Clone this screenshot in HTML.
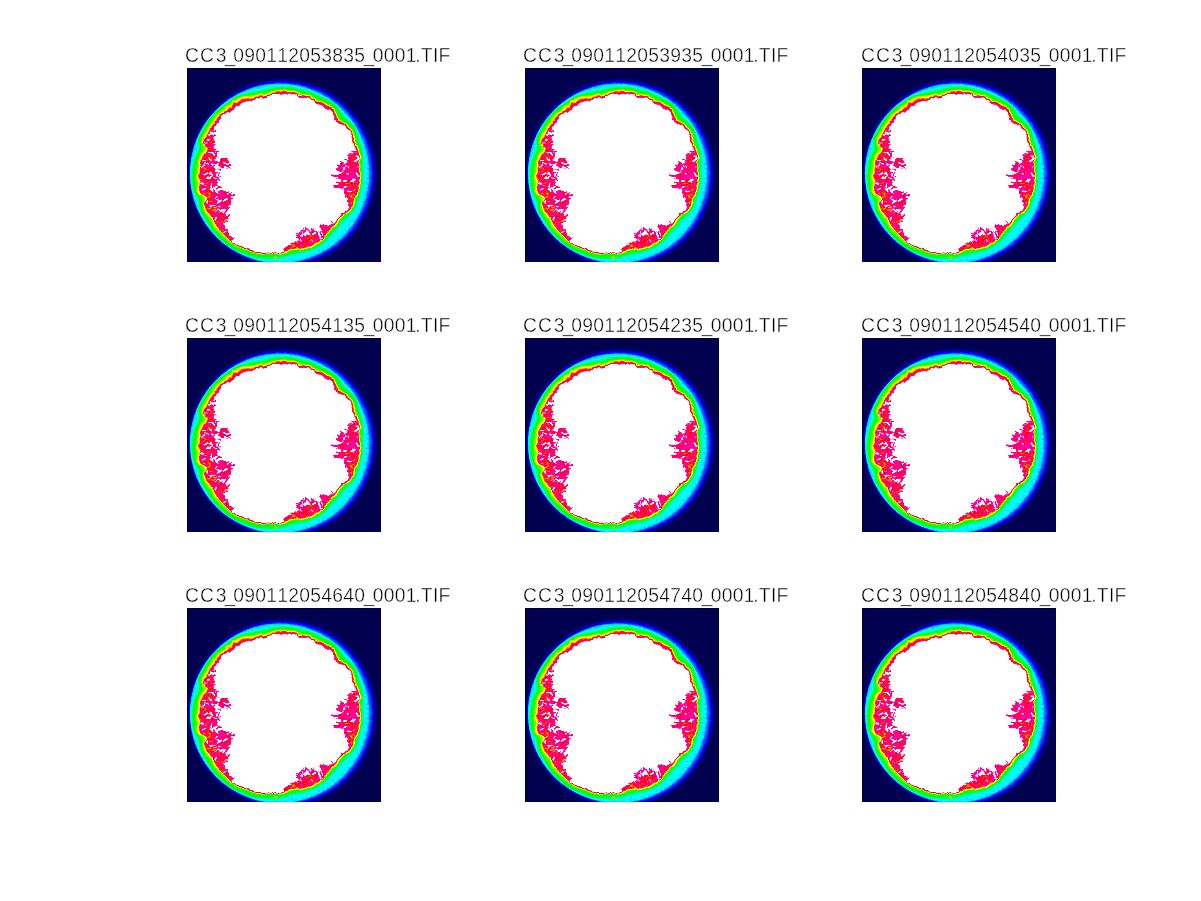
<!DOCTYPE html>
<html lang="en"><head><meta charset="utf-8"><title>Figure 1</title>
<style>
html,body{margin:0;padding:0;background:#fff}
body{width:1201px;height:901px;position:relative;overflow:hidden;font-family:"Liberation Sans",Arial,Helvetica,sans-serif}
svg.tt{position:absolute;left:0;top:0;display:block}
svg.tt text{font-family:"Liberation Sans",Arial,Helvetica,sans-serif;font-size:19.3px;fill:#000;stroke:#fff;stroke-width:.4px;white-space:pre}
svg.ax{position:absolute;display:block}
</style></head><body>
<svg width="0" height="0" style="position:absolute"><defs>
<filter id="cm" filterUnits="userSpaceOnUse" x="-6" y="-6" width="206" height="206" color-interpolation-filters="sRGB">
<feGaussianBlur in="SourceGraphic" stdDeviation="0.5" result="b"/>
<feTurbulence type="fractalNoise" baseFrequency="0.42" numOctaves="2" seed="4" result="n"/>
<feColorMatrix in="n" type="matrix" values="1 0 0 0 0  1 0 0 0 0  1 0 0 0 0  0 0 0 0 1" result="ng"/>
<feComposite in="b" in2="ng" operator="arithmetic" k1="0" k2="1" k3="0.064" k4="-0.040" result="s"/>
<feComponentTransfer in="s"><feFuncR type="table" tableValues="0.000 0.000 0.000 0.000 1.000 1.000 1.000 1.000 1.000"/><feFuncG type="table" tableValues="0.000 0.000 1.000 1.000 1.000 0.000 0.000 1.000 1.000"/><feFuncB type="table" tableValues="0.310 1.000 1.000 0.000 0.000 0.000 0.800 1.000 1.000"/></feComponentTransfer>
</filter>
<filter id="b1" filterUnits="userSpaceOnUse" x="-20" y="-20" width="240" height="240" color-interpolation-filters="sRGB"><feGaussianBlur stdDeviation="1.0"/></filter>
<filter id="b0" filterUnits="userSpaceOnUse" x="-20" y="-20" width="240" height="240" color-interpolation-filters="sRGB"><feGaussianBlur stdDeviation="0.8"/></filter>
<filter id="b2" filterUnits="userSpaceOnUse" x="-20" y="-20" width="240" height="240" color-interpolation-filters="sRGB"><feGaussianBlur stdDeviation="2.3"/></filter>
<radialGradient id="ring" gradientUnits="userSpaceOnUse" cx="92.5" cy="105.4" r="89.8">
<stop offset="0.8218" stop-color="#4b4b4b"/>
<stop offset="0.9109" stop-color="#454545"/>
<stop offset="0.9666" stop-color="#414141"/>
<stop offset="1.0000" stop-color="#3c3c3c"/>
</radialGradient>
<clipPath id="disc"><circle cx="92.5" cy="105.4" r="89.2"/></clipPath>
<clipPath id="hzc"><path d="M96.7,22.6 98.6,22.9 99.7,23.7 100.2,23.9 101.5,24.0 102.8,23.7 104.9,24.6 105.8,23.5 108.1,24.4 108.8,24.4 110.3,24.8 110.9,26.2 110.5,27.1 112.0,28.3 113.0,27.9 115.1,27.6 116.2,27.1 116.6,27.4 118.9,27.8 119.7,28.3 121.5,27.8 123.5,28.7 123.6,29.4 125.1,31.0 126.6,30.8 128.2,31.4 128.4,33.2 129.1,33.3 130.3,33.7 132.9,33.8 134.5,33.6 135.4,34.6 136.2,35.0 137.8,36.3 138.2,36.4 138.5,37.1 140.5,38.1 141.9,37.6 142.4,38.8 143.1,38.8 144.3,39.1 145.2,41.1 146.5,40.8 147.3,43.5 147.4,44.1 148.6,46.3 149.5,47.7 149.3,48.2 150.1,50.1 151.6,50.2 150.9,51.6 152.0,52.7 153.7,52.9 153.7,53.8 155.4,54.6 157.2,55.6 157.6,56.0 158.7,55.9 160.1,57.9 160.9,58.8 160.9,59.0 161.1,60.4 162.0,60.2 163.0,61.3 164.1,62.0 164.4,63.0 165.4,64.2 165.4,66.3 166.5,66.3 165.9,68.0 166.1,68.9 167.0,71.6 166.9,72.0 166.5,72.7 167.3,74.3 168.6,75.4 167.5,78.1 169.2,77.8 169.8,78.7 170.3,81.5 171.5,82.1 171.1,82.6 171.2,84.6 172.0,85.9 171.8,86.2 172.8,88.8 173.1,89.8 172.9,91.0 171.7,91.9 171.8,92.3 171.0,94.0 171.3,96.0 172.3,96.9 172.4,99.2 172.6,99.4 171.8,100.6 171.8,101.9 172.5,104.4 173.0,105.1 172.7,107.0 171.8,108.1 173.1,109.6 172.7,110.5 171.7,112.3 171.8,113.7 173.0,114.4 171.8,116.7 172.4,116.7 171.0,118.0 172.1,120.4 170.3,121.8 171.5,122.8 169.9,123.9 169.1,124.3 170.0,126.5 168.9,128.1 167.9,129.0 168.0,129.0 166.7,130.4 166.4,132.2 166.2,133.2 165.7,135.3 165.8,135.8 165.7,137.7 164.9,138.7 164.5,139.1 164.0,139.3 163.4,140.7 162.2,142.9 161.4,143.0 161.2,143.7 159.5,144.3 158.7,145.4 156.8,145.6 156.0,146.0 155.8,147.2 154.4,148.4 153.9,148.8 152.5,149.9 151.6,151.3 150.7,152.1 149.9,153.9 149.5,154.9 149.1,155.0 147.6,157.2 147.5,157.0 145.3,158.4 144.3,158.9 143.6,160.6 143.9,161.8 141.9,162.3 141.8,162.1 141.3,164.3 139.4,165.3 139.0,165.5 139.2,167.1 137.4,167.9 137.6,169.1 136.7,170.5 136.5,170.5 135.2,171.8 133.1,172.1 133.1,172.9 131.0,174.2 131.2,174.8 129.0,174.3 127.8,175.8 127.1,175.3 126.3,177.3 125.9,176.8 123.5,178.4 123.2,178.6 121.2,177.9 120.9,178.8 118.6,179.8 118.4,179.8 116.2,180.1 115.0,180.6 114.5,180.1 113.4,181.4 111.6,180.0 110.7,180.3 108.7,180.3 107.2,180.3 106.3,180.7 105.8,181.0 104.0,181.1 102.4,181.3 100.9,181.5 100.6,182.8 98.6,183.2 98.8,183.1 97.6,184.1 95.9,185.0 94.6,184.8 94.0,185.9 92.3,186.0 91.6,185.7 89.8,185.2 87.8,184.8 86.5,185.9 85.5,184.9 83.9,186.1 83.9,185.9 81.5,185.1 80.2,185.5 78.7,185.5 77.5,186.4 77.4,185.7 74.8,186.5 73.7,185.2 71.9,185.1 71.5,185.1 69.8,185.0 68.2,184.4 67.1,184.5 65.8,183.7 65.2,183.6 64.6,183.6 63.8,183.2 62.7,183.0 61.0,181.6 61.0,180.7 59.4,181.0 57.0,180.8 57.2,180.0 55.6,179.9 53.4,178.9 52.8,178.9 52.1,178.5 50.3,178.1 49.2,177.2 47.1,175.5 45.6,175.5 44.7,175.6 44.6,174.4 43.9,173.6 42.8,171.6 42.4,172.0 40.9,170.8 40.3,169.1 39.6,168.4 37.6,167.5 37.8,166.5 36.9,166.8 35.6,165.0 34.8,164.6 34.4,163.6 33.3,161.8 31.6,161.3 31.9,160.3 30.9,158.7 29.3,158.1 29.5,157.7 28.9,155.9 27.9,155.1 27.4,153.5 27.8,152.6 27.6,152.8 25.5,150.9 26.5,150.7 25.5,148.4 24.3,148.7 23.3,147.3 22.2,146.4 22.8,144.8 21.5,144.7 21.0,144.0 19.3,143.2 19.3,140.6 17.9,140.3 18.2,138.7 17.2,137.5 17.5,136.9 16.8,135.4 18.7,133.0 19.5,132.6 20.0,130.5 20.0,129.2 20.0,128.7 17.7,127.6 16.3,126.2 15.0,126.7 14.0,125.9 12.9,123.6 12.0,122.5 11.7,122.3 12.6,120.7 12.0,119.4 12.8,117.4 12.8,115.2 13.0,114.5 13.5,113.4 12.3,111.1 12.9,109.9 11.7,108.9 11.0,108.2 12.5,106.0 12.7,104.8 12.9,103.6 12.7,101.8 12.6,101.7 13.2,99.2 13.9,99.1 13.2,96.3 12.9,94.8 13.4,93.4 13.5,92.3 14.6,92.1 15.5,90.2 15.7,89.3 16.3,87.9 16.4,86.7 18.8,85.4 18.8,85.1 20.0,83.3 19.9,82.3 20.6,81.5 20.9,81.1 20.3,78.7 18.0,78.8 18.8,77.4 17.5,75.5 16.3,75.9 16.3,74.7 16.9,72.5 16.3,71.2 17.6,71.0 19.1,69.9 19.5,69.0 19.9,67.5 19.8,66.7 20.9,66.0 21.8,63.6 21.6,62.6 22.9,62.1 22.7,60.1 24.1,60.0 24.7,58.4 25.6,57.0 25.8,56.8 27.4,56.0 28.1,54.7 27.6,53.1 29.7,52.8 29.4,50.6 30.4,50.5 30.8,48.6 32.2,48.8 32.7,46.5 33.9,46.3 35.6,45.1 36.8,45.0 37.5,43.3 39.3,42.9 40.2,42.1 40.0,42.2 41.1,41.7 42.4,39.6 42.9,39.3 44.8,39.7 44.6,37.4 45.6,37.5 46.3,34.8 47.1,34.4 49.8,34.8 50.8,34.5 52.4,32.6 52.5,33.3 54.7,31.1 55.8,31.2 56.6,31.0 57.5,30.3 58.9,30.7 61.4,30.3 62.6,30.2 62.8,31.2 64.9,30.3 64.8,30.1 66.7,30.7 67.6,29.2 70.1,28.5 70.4,29.2 72.2,27.4 72.3,27.3 75.2,27.6 76.3,28.8 77.1,28.0 79.4,27.9 79.5,27.8 80.8,26.6 81.5,26.7 84.3,25.9 85.6,24.3 85.6,24.4 88.2,25.0 88.5,23.4 89.8,23.5 92.0,22.9 93.1,23.7 94.6,23.4 95.7,22.9Z"/></clipPath>
<g id="sky" filter="url(#cm)"><rect x="-8" y="-8" width="210" height="210" fill="#000000"/>
<circle cx="94.9" cy="105.1" r="92.1" fill="#303030" filter="url(#b2)"/>
<circle cx="92.5" cy="105.4" r="89.8" fill="url(#ring)"/>
<path d="M97.3,18.7 99.6,18.7 101.9,18.6 104.2,18.9 106.3,19.5 108.4,20.0 110.5,20.5 112.5,21.0 114.5,21.5 116.5,22.1 118.5,22.5 120.6,22.8 122.5,23.3 124.4,23.9 126.2,24.7 128.0,25.5 129.8,26.4 131.7,27.3 133.6,28.2 135.6,29.1 137.6,29.9 139.6,30.7 141.6,31.6 143.4,32.5 145.2,33.5 146.9,34.7 148.4,36.1 149.8,37.5 151.0,39.1 152.2,40.8 153.2,42.6 154.2,44.4 155.2,46.1 156.3,47.6 157.6,49.0 159.0,50.3 160.4,51.6 162.0,52.9 163.5,54.2 165.0,55.6 166.5,57.1 167.7,58.8 168.7,60.6 169.5,62.5 170.2,64.5 170.8,66.6 171.3,68.8 171.7,71.1 172.3,73.3 173.0,75.5 173.8,77.6 174.5,79.8 175.1,81.9 175.6,84.0 176.0,86.1 176.1,88.2 176.1,90.4 176.0,92.5 175.9,94.6 175.8,96.8 175.7,98.9 175.7,101.2 175.7,103.4 175.7,105.6 175.8,107.9 175.8,110.2 175.7,112.4 175.5,114.7 175.2,116.9 174.8,119.2 174.2,121.5 173.6,123.7 172.9,126.0 172.2,128.3 171.5,130.6 170.8,132.8 170.1,134.9 169.5,136.9 168.8,138.9 168.0,140.7 166.9,142.3 165.7,143.8 164.4,145.2 162.9,146.5 161.4,147.7 159.8,149.0 158.3,150.3 157.0,151.6 155.7,153.0 154.4,154.4 153.3,155.9 152.1,157.5 150.8,159.0 149.5,160.5 148.2,162.1 146.8,163.6 145.3,165.1 143.9,166.8 142.7,168.5 141.3,170.2 139.8,171.8 138.2,173.3 136.5,174.9 134.8,176.3 132.9,177.6 130.8,178.8 128.7,179.9 126.6,180.8 124.6,181.7 122.6,182.5 120.6,183.2 118.6,183.7 116.6,184.0 114.6,184.3 112.6,184.7 110.5,185.1 108.4,185.5 106.3,186.0 104.1,186.6 101.9,187.3 99.6,188.1 97.3,188.8 95.1,189.4 92.9,189.9 90.7,190.3 88.6,190.5 86.5,190.6 84.4,190.6 82.3,190.7 80.3,190.7 78.2,190.7 76.1,190.6 73.9,190.5 71.7,190.4 69.6,190.1 67.5,189.7 65.4,189.2 63.4,188.6 61.5,188.0 59.7,187.3 57.9,186.6 56.1,185.8 54.2,185.1 52.4,184.4 50.5,183.7 48.6,183.0 46.7,182.1 44.9,181.1 43.0,180.0 41.3,178.9 39.6,177.6 38.0,176.2 36.5,174.8 35.0,173.4 33.5,172.0 32.0,170.6 30.6,169.1 29.1,167.6 27.7,166.0 26.4,164.4 25.1,162.7 24.0,161.0 23.0,159.3 22.1,157.6 21.2,155.9 20.2,154.3 19.1,152.7 18.0,150.9 16.8,149.1 15.6,147.2 14.5,145.4 13.5,143.4 12.8,141.4 12.4,139.4 12.3,137.4 12.2,135.6 11.9,133.9 11.4,132.3 10.8,130.7 9.8,129.1 8.8,127.4 7.6,125.7 6.7,123.9 6.1,122.0 5.7,120.0 5.4,118.0 5.3,115.9 5.1,113.9 5.0,111.9 4.9,110.0 4.9,108.0 4.9,106.0 5.0,104.1 5.2,102.1 5.6,100.1 6.0,98.1 6.3,96.1 6.6,94.1 7.1,92.1 7.8,90.1 8.6,88.2 9.6,86.3 10.6,84.5 11.5,82.7 12.0,81.0 12.2,79.3 12.1,77.7 11.7,76.1 11.3,74.5 10.9,72.9 10.8,71.3 11.1,69.7 11.6,68.1 12.5,66.4 13.6,64.7 14.6,63.0 15.7,61.3 16.7,59.5 17.8,57.6 18.8,55.8 19.9,53.9 21.0,52.0 22.2,50.2 23.4,48.4 24.7,46.7 26.2,45.1 27.7,43.5 29.3,42.0 31.1,40.5 33.0,39.1 35.1,37.8 37.0,36.5 38.8,35.2 40.5,33.9 42.1,32.7 43.8,31.5 45.5,30.3 47.2,29.2 49.1,28.3 51.1,27.5 53.3,26.9 55.5,26.4 57.7,25.9 59.9,25.4 62.0,25.0 64.0,24.6 66.0,24.1 68.0,23.8 70.0,23.5 72.0,23.1 74.0,22.8 76.0,22.3 78.0,21.9 80.0,21.4 82.0,20.8 84.0,20.2 86.1,19.6 88.2,19.2 90.4,18.9 92.6,18.7 95.0,18.7Z" fill="#616161" filter="url(#b1)" clip-path="url(#disc)"/>
<path d="M97.1,21.8 99.4,21.8 101.6,21.9 103.7,22.2 105.8,22.8 107.8,23.4 109.8,23.9 111.7,24.5 113.6,25.0 115.5,25.7 117.4,26.1 119.3,26.5 121.2,27.0 122.9,27.6 124.6,28.4 126.3,29.3 128.1,30.2 129.8,31.1 131.6,32.0 133.4,32.9 135.3,33.7 137.2,34.5 139.0,35.4 140.7,36.3 142.4,37.4 143.9,38.6 145.3,39.9 146.5,41.4 147.7,42.9 148.7,44.6 149.6,46.5 150.4,48.2 151.3,49.7 152.4,51.2 153.6,52.5 154.9,53.7 156.3,54.9 157.8,56.1 159.2,57.3 160.7,58.6 162.1,60.0 163.3,61.6 164.2,63.2 165.0,65.0 165.7,66.9 166.2,68.9 166.7,70.9 167.1,73.1 167.6,75.2 168.4,77.2 169.2,79.2 169.9,81.2 170.6,83.2 171.2,85.1 171.6,87.1 171.8,89.1 171.8,91.1 171.8,93.2 171.7,95.2 171.7,97.2 171.7,99.3 171.8,101.4 171.8,103.5 171.9,105.6 172.0,107.8 171.9,109.9 171.8,112.1 171.6,114.2 171.3,116.4 170.8,118.5 170.3,120.7 169.6,122.8 168.9,125.0 168.2,127.2 167.5,129.3 166.9,131.4 166.2,133.4 165.5,135.3 164.9,137.2 164.1,138.8 163.1,140.4 161.8,141.7 160.5,143.0 159.1,144.3 157.6,145.4 156.1,146.6 154.6,147.7 153.3,149.0 152.0,150.3 150.9,151.6 149.7,153.0 148.6,154.4 147.4,155.9 146.2,157.3 144.9,158.7 143.6,160.2 142.2,161.6 140.9,163.1 139.7,164.8 138.4,166.4 137.0,167.9 135.6,169.4 134.0,170.8 132.3,172.2 130.5,173.4 128.5,174.5 126.5,175.5 124.6,176.4 122.7,177.2 120.8,177.9 118.9,178.5 117.0,179.0 115.1,179.3 113.2,179.5 111.4,179.8 109.4,180.1 107.5,180.5 105.5,180.9 103.4,181.5 101.3,182.2 99.1,183.0 97.0,183.7 94.9,184.2 92.8,184.7 90.8,185.0 88.8,185.2 86.8,185.3 84.9,185.3 83.0,185.3 81.1,185.3 79.1,185.3 77.1,185.3 75.1,185.2 73.0,185.2 70.9,185.0 68.9,184.8 67.0,184.4 65.1,183.9 63.2,183.4 61.5,182.8 59.8,182.2 58.0,181.5 56.3,180.9 54.5,180.3 52.6,179.8 50.8,179.2 48.9,178.4 47.1,177.6 45.3,176.6 43.6,175.6 41.9,174.4 40.3,173.2 38.8,171.9 37.3,170.6 35.8,169.3 34.4,168.1 32.9,166.7 31.4,165.3 30.0,163.9 28.6,162.4 27.3,160.8 26.2,159.2 25.3,157.6 24.5,155.9 23.6,154.3 22.6,152.6 21.6,151.1 20.5,149.4 19.4,147.6 18.3,145.8 17.2,144.0 16.2,142.1 15.6,140.2 15.3,138.2 15.2,136.3 15.1,134.5 14.8,132.8 14.4,131.3 13.8,129.7 12.9,128.2 11.9,126.6 10.8,125.0 9.9,123.3 9.3,121.4 8.9,119.5 8.7,117.5 8.6,115.5 8.4,113.6 8.3,111.7 8.3,109.8 8.3,107.9 8.3,106.0 8.4,104.1 8.6,102.2 9.0,100.3 9.4,98.4 9.6,96.5 10.0,94.5 10.5,92.6 11.1,90.7 11.9,88.8 12.8,87.0 13.8,85.3 14.7,83.6 15.2,81.9 15.4,80.3 15.2,78.8 14.8,77.3 14.4,75.7 13.9,74.1 13.8,72.6 14.0,71.0 14.5,69.4 15.3,67.8 16.4,66.2 17.4,64.5 18.4,62.9 19.4,61.2 20.4,59.3 21.4,57.5 22.5,55.7 23.5,53.9 24.6,52.1 25.8,50.3 27.0,48.7 28.4,47.1 29.9,45.6 31.5,44.1 33.2,42.7 35.0,41.3 37.0,40.1 38.8,38.8 40.5,37.5 42.2,36.3 43.8,35.0 45.4,33.9 47.0,32.7 48.7,31.6 50.5,30.7 52.4,29.9 54.5,29.4 56.7,28.8 58.8,28.4 60.9,27.9 62.9,27.5 64.9,27.1 66.9,26.7 68.8,26.4 70.8,26.1 72.7,25.8 74.6,25.5 76.6,25.1 78.5,24.7 80.4,24.2 82.4,23.7 84.3,23.1 86.3,22.5 88.3,22.1 90.4,21.8 92.6,21.7 94.9,21.7Z" fill="#707070" filter="url(#b0)"/>
<path d="M96.8,21.4 98.7,21.6 99.8,22.7 100.3,23.0 101.6,22.7 103.0,22.5 105.0,23.6 106.0,22.2 108.3,23.3 109.0,23.6 110.6,23.7 111.2,25.2 110.7,26.0 112.3,27.1 113.3,26.9 115.3,26.8 116.4,26.3 116.9,26.5 119.3,26.8 120.2,27.0 122.0,26.4 124.1,27.2 124.1,28.3 125.5,30.0 127.0,29.9 128.6,30.4 128.8,32.4 129.6,32.4 130.8,32.9 133.3,33.1 134.9,33.0 135.8,33.9 136.6,34.3 138.3,35.4 139.0,35.2 139.2,36.1 141.2,37.3 142.7,36.6 142.9,38.1 143.6,38.2 144.9,38.4 145.7,40.4 147.1,40.1 148.0,42.8 148.1,43.3 149.3,45.6 150.3,46.9 149.8,47.6 150.7,49.6 152.2,49.7 151.5,51.1 152.6,52.2 154.3,52.4 154.4,53.2 156.1,54.1 158.1,54.9 158.7,55.2 159.6,55.2 160.9,57.3 161.7,58.3 161.7,58.5 162.1,59.8 162.9,59.6 164.0,60.7 165.3,61.3 165.4,62.5 166.2,63.8 166.5,65.7 167.8,65.7 167.0,67.4 167.4,68.2 168.7,70.8 168.3,71.4 167.7,72.2 168.5,73.8 169.6,75.0 168.4,77.8 170.3,77.4 171.0,78.3 171.5,81.1 172.7,81.7 172.4,82.2 172.5,84.2 173.2,85.6 173.2,85.9 174.5,88.4 174.7,89.5 174.1,90.7 173.2,91.6 173.2,92.1 172.2,93.9 172.2,95.9 173.4,96.8 173.3,99.1 173.6,99.4 172.7,100.5 172.8,101.8 173.6,104.4 173.9,105.1 173.9,107.0 173.2,108.1 174.7,109.7 174.2,110.5 173.4,112.5 173.5,113.9 174.4,114.5 173.1,116.8 173.8,116.9 172.5,118.2 173.3,120.7 171.8,122.1 173.1,123.2 171.4,124.3 170.4,124.7 171.6,126.9 170.1,128.5 169.0,129.3 169.2,129.3 167.9,130.8 167.7,132.6 167.9,133.8 167.6,136.0 167.2,136.4 167.0,138.2 165.8,139.1 165.3,139.5 164.8,139.7 164.5,141.3 163.4,143.6 162.6,143.6 162.5,144.4 160.5,144.9 159.5,145.9 157.6,146.1 156.9,146.5 156.6,147.7 155.2,149.0 155.0,149.5 153.7,150.8 152.6,152.1 152.0,153.3 151.1,155.0 150.7,156.0 150.3,156.0 149.0,158.5 148.7,158.2 146.5,159.5 145.2,159.8 144.3,161.4 144.5,162.5 142.5,163.0 142.4,162.8 142.1,165.2 140.1,166.1 139.5,166.3 139.8,167.8 138.0,168.6 138.1,169.8 137.3,171.3 137.1,171.3 135.8,172.7 133.8,173.3 133.8,174.1 131.8,175.7 132.0,176.2 129.9,176.0 128.7,177.5 128.0,177.0 127.0,178.7 126.7,178.5 124.3,180.1 123.7,179.9 121.7,179.2 121.5,180.1 119.0,181.0 118.7,180.9 116.6,181.6 115.3,181.8 114.8,181.3 113.8,182.7 111.9,181.2 111.0,181.5 108.9,181.4 107.4,181.3 106.5,181.8 106.0,182.3 104.1,182.2 102.6,182.7 101.1,183.0 100.8,184.4 98.8,184.8 99.0,184.6 97.6,185.4 95.9,186.1 94.6,185.8 94.0,186.8 92.3,186.8 91.6,186.3 89.8,185.7 87.8,185.2 86.5,186.3 85.5,185.2 83.9,186.4 83.9,186.2 81.5,185.4 80.2,185.9 78.6,185.8 77.4,186.8 77.3,186.0 74.7,186.9 73.6,185.6 71.8,185.6 71.3,185.7 69.6,185.7 68.1,185.0 67.0,185.0 65.7,184.1 65.0,184.0 64.5,183.8 63.7,183.4 62.6,183.3 60.9,181.8 60.9,180.9 59.2,181.3 56.8,181.2 57.0,180.5 55.4,180.4 53.2,179.3 52.6,179.3 51.8,178.9 50.1,178.5 49.0,177.5 46.9,175.7 45.4,175.8 44.5,175.8 44.4,174.7 43.7,173.9 42.7,171.9 42.2,172.3 40.8,171.1 40.1,169.3 39.4,168.7 37.3,167.8 37.5,166.7 36.7,167.1 35.3,165.3 34.5,164.9 34.1,163.9 32.8,162.3 30.8,162.0 30.9,161.2 29.6,159.8 27.8,159.3 28.1,158.9 27.2,157.3 26.4,156.3 26.1,154.5 26.7,153.4 26.6,153.4 24.7,151.4 25.6,151.3 24.2,149.3 22.8,149.6 22.0,148.1 21.0,147.1 21.5,145.6 20.4,145.4 19.6,144.7 17.8,144.0 17.8,141.3 16.4,141.0 17.0,139.3 16.1,138.0 16.3,137.4 15.6,135.9 17.4,133.5 17.9,133.2 18.4,131.0 18.3,129.7 18.1,129.3 16.0,128.1 14.7,126.6 12.8,127.3 11.6,126.5 10.1,124.2 9.4,123.0 9.2,122.9 10.4,121.1 10.6,119.6 11.4,117.6 11.3,115.3 11.2,114.7 11.6,113.6 9.7,111.2 10.3,110.0 9.5,109.0 8.9,108.3 10.4,106.1 10.8,104.7 11.4,103.5 11.2,101.7 11.1,101.6 11.7,99.0 12.4,99.0 11.7,96.1 11.4,94.6 12.0,93.2 11.6,92.0 12.3,91.7 13.0,89.7 12.4,88.6 13.4,87.2 14.2,86.1 16.6,84.8 16.6,84.6 18.4,82.8 18.4,81.9 19.0,80.9 19.5,80.6 18.9,78.2 16.1,78.1 16.7,76.6 15.7,74.8 14.1,75.1 14.6,74.1 15.6,71.9 14.7,70.5 15.5,70.0 16.8,68.8 16.6,67.5 17.2,66.1 17.7,65.6 19.0,64.9 20.2,62.7 20.4,61.8 21.6,61.3 21.0,59.0 22.5,58.9 23.1,57.4 23.8,55.7 23.6,55.2 25.8,54.8 26.6,53.5 26.0,51.8 28.0,51.4 28.3,49.7 29.2,49.5 29.7,47.5 31.1,47.8 31.6,45.4 32.8,45.1 34.4,43.8 35.4,43.5 36.1,41.8 38.1,41.4 38.5,40.1 37.9,39.7 39.0,39.1 40.3,36.9 41.3,37.1 43.4,37.6 43.4,35.8 44.6,36.0 45.3,33.2 45.6,32.1 48.5,32.6 49.3,31.9 50.7,29.6 51.1,30.8 53.6,29.0 54.7,28.8 55.5,28.7 56.4,28.0 57.9,28.4 60.4,27.8 61.6,27.7 61.9,28.8 64.1,28.3 63.8,27.4 65.9,28.3 67.0,27.5 69.5,26.6 69.9,27.4 71.9,26.2 71.8,25.6 74.8,25.8 76.1,27.5 76.9,26.8 79.2,26.8 79.3,26.7 80.7,25.5 81.4,25.5 84.2,24.3 85.5,22.7 85.5,23.0 88.1,24.0 88.4,22.3 89.8,22.5 92.0,21.9 93.1,22.5 94.7,22.1 95.8,21.8Z" fill="#838383"/>
<path d="M96.7,22.6 98.6,22.9 99.7,23.7 100.2,23.9 101.5,24.0 102.8,23.7 104.9,24.6 105.8,23.5 108.1,24.4 108.8,24.4 110.3,24.8 110.9,26.2 110.5,27.1 112.0,28.3 113.0,27.9 115.1,27.6 116.2,27.1 116.6,27.4 118.9,27.8 119.7,28.3 121.5,27.8 123.5,28.7 123.6,29.4 125.1,31.0 126.6,30.8 128.2,31.4 128.4,33.2 129.1,33.3 130.3,33.7 132.9,33.8 134.5,33.6 135.4,34.6 136.2,35.0 137.8,36.3 138.2,36.4 138.5,37.1 140.5,38.1 141.9,37.6 142.4,38.8 143.1,38.8 144.3,39.1 145.2,41.1 146.5,40.8 147.3,43.5 147.4,44.1 148.6,46.3 149.5,47.7 149.3,48.2 150.1,50.1 151.6,50.2 150.9,51.6 152.0,52.7 153.7,52.9 153.7,53.8 155.4,54.6 157.2,55.6 157.6,56.0 158.7,55.9 160.1,57.9 160.9,58.8 160.9,59.0 161.1,60.4 162.0,60.2 163.0,61.3 164.1,62.0 164.4,63.0 165.4,64.2 165.4,66.3 166.5,66.3 165.9,68.0 166.1,68.9 167.0,71.6 166.9,72.0 166.5,72.7 167.3,74.3 168.6,75.4 167.5,78.1 169.2,77.8 169.8,78.7 170.3,81.5 171.5,82.1 171.1,82.6 171.2,84.6 172.0,85.9 171.8,86.2 172.8,88.8 173.1,89.8 172.9,91.0 171.7,91.9 171.8,92.3 171.0,94.0 171.3,96.0 172.3,96.9 172.4,99.2 172.6,99.4 171.8,100.6 171.8,101.9 172.5,104.4 173.0,105.1 172.7,107.0 171.8,108.1 173.1,109.6 172.7,110.5 171.7,112.3 171.8,113.7 173.0,114.4 171.8,116.7 172.4,116.7 171.0,118.0 172.1,120.4 170.3,121.8 171.5,122.8 169.9,123.9 169.1,124.3 170.0,126.5 168.9,128.1 167.9,129.0 168.0,129.0 166.7,130.4 166.4,132.2 166.2,133.2 165.7,135.3 165.8,135.8 165.7,137.7 164.9,138.7 164.5,139.1 164.0,139.3 163.4,140.7 162.2,142.9 161.4,143.0 161.2,143.7 159.5,144.3 158.7,145.4 156.8,145.6 156.0,146.0 155.8,147.2 154.4,148.4 153.9,148.8 152.5,149.9 151.6,151.3 150.7,152.1 149.9,153.9 149.5,154.9 149.1,155.0 147.6,157.2 147.5,157.0 145.3,158.4 144.3,158.9 143.6,160.6 143.9,161.8 141.9,162.3 141.8,162.1 141.3,164.3 139.4,165.3 139.0,165.5 139.2,167.1 137.4,167.9 137.6,169.1 136.7,170.5 136.5,170.5 135.2,171.8 133.1,172.1 133.1,172.9 131.0,174.2 131.2,174.8 129.0,174.3 127.8,175.8 127.1,175.3 126.3,177.3 125.9,176.8 123.5,178.4 123.2,178.6 121.2,177.9 120.9,178.8 118.6,179.8 118.4,179.8 116.2,180.1 115.0,180.6 114.5,180.1 113.4,181.4 111.6,180.0 110.7,180.3 108.7,180.3 107.2,180.3 106.3,180.7 105.8,181.0 104.0,181.1 102.4,181.3 100.9,181.5 100.6,182.8 98.6,183.2 98.8,183.1 97.6,184.1 95.9,185.0 94.6,184.8 94.0,185.9 92.3,186.0 91.6,185.7 89.8,185.2 87.8,184.8 86.5,185.9 85.5,184.9 83.9,186.1 83.9,185.9 81.5,185.1 80.2,185.5 78.7,185.5 77.5,186.4 77.4,185.7 74.8,186.5 73.7,185.2 71.9,185.1 71.5,185.1 69.8,185.0 68.2,184.4 67.1,184.5 65.8,183.7 65.2,183.6 64.6,183.6 63.8,183.2 62.7,183.0 61.0,181.6 61.0,180.7 59.4,181.0 57.0,180.8 57.2,180.0 55.6,179.9 53.4,178.9 52.8,178.9 52.1,178.5 50.3,178.1 49.2,177.2 47.1,175.5 45.6,175.5 44.7,175.6 44.6,174.4 43.9,173.6 42.8,171.6 42.4,172.0 40.9,170.8 40.3,169.1 39.6,168.4 37.6,167.5 37.8,166.5 36.9,166.8 35.6,165.0 34.8,164.6 34.4,163.6 33.3,161.8 31.6,161.3 31.9,160.3 30.9,158.7 29.3,158.1 29.5,157.7 28.9,155.9 27.9,155.1 27.4,153.5 27.8,152.6 27.6,152.8 25.5,150.9 26.5,150.7 25.5,148.4 24.3,148.7 23.3,147.3 22.2,146.4 22.8,144.8 21.5,144.7 21.0,144.0 19.3,143.2 19.3,140.6 17.9,140.3 18.2,138.7 17.2,137.5 17.5,136.9 16.8,135.4 18.7,133.0 19.5,132.6 20.0,130.5 20.0,129.2 20.0,128.7 17.7,127.6 16.3,126.2 15.0,126.7 14.0,125.9 12.9,123.6 12.0,122.5 11.7,122.3 12.6,120.7 12.0,119.4 12.8,117.4 12.8,115.2 13.0,114.5 13.5,113.4 12.3,111.1 12.9,109.9 11.7,108.9 11.0,108.2 12.5,106.0 12.7,104.8 12.9,103.6 12.7,101.8 12.6,101.7 13.2,99.2 13.9,99.1 13.2,96.3 12.9,94.8 13.4,93.4 13.5,92.3 14.6,92.1 15.5,90.2 15.7,89.3 16.3,87.9 16.4,86.7 18.8,85.4 18.8,85.1 20.0,83.3 19.9,82.3 20.6,81.5 20.9,81.1 20.3,78.7 18.0,78.8 18.8,77.4 17.5,75.5 16.3,75.9 16.3,74.7 16.9,72.5 16.3,71.2 17.6,71.0 19.1,69.9 19.5,69.0 19.9,67.5 19.8,66.7 20.9,66.0 21.8,63.6 21.6,62.6 22.9,62.1 22.7,60.1 24.1,60.0 24.7,58.4 25.6,57.0 25.8,56.8 27.4,56.0 28.1,54.7 27.6,53.1 29.7,52.8 29.4,50.6 30.4,50.5 30.8,48.6 32.2,48.8 32.7,46.5 33.9,46.3 35.6,45.1 36.8,45.0 37.5,43.3 39.3,42.9 40.2,42.1 40.0,42.2 41.1,41.7 42.4,39.6 42.9,39.3 44.8,39.7 44.6,37.4 45.6,37.5 46.3,34.8 47.1,34.4 49.8,34.8 50.8,34.5 52.4,32.6 52.5,33.3 54.7,31.1 55.8,31.2 56.6,31.0 57.5,30.3 58.9,30.7 61.4,30.3 62.6,30.2 62.8,31.2 64.9,30.3 64.8,30.1 66.7,30.7 67.6,29.2 70.1,28.5 70.4,29.2 72.2,27.4 72.3,27.3 75.2,27.6 76.3,28.8 77.1,28.0 79.4,27.9 79.5,27.8 80.8,26.6 81.5,26.7 84.3,25.9 85.6,24.3 85.6,24.4 88.2,25.0 88.5,23.4 89.8,23.5 92.0,22.9 93.1,23.7 94.6,23.4 95.7,22.9Z" fill="#9e9e9e"/>
<path d="M96.6,24.4 98.5,24.1 99.6,24.6 100.1,25.2 101.3,25.2 102.7,24.6 104.7,25.8 105.6,24.5 107.9,25.7 108.6,25.7 110.1,25.9 110.7,27.2 110.3,27.7 111.8,28.9 112.9,28.5 114.9,28.2 116.0,27.7 116.4,28.0 118.7,28.4 119.5,28.9 121.1,28.8 123.1,29.6 123.2,30.4 124.9,31.6 126.2,31.7 127.7,32.4 127.7,34.6 128.6,34.2 129.6,35.1 132.1,35.3 133.5,35.3 134.6,35.9 135.5,36.1 137.0,37.5 137.4,37.6 137.9,38.0 139.9,39.0 141.3,38.5 141.5,40.0 141.7,40.7 143.3,40.5 144.1,42.3 145.1,42.5 146.3,44.6 146.3,45.3 147.8,47.2 148.9,48.4 148.3,49.1 148.8,51.4 150.3,51.4 149.4,53.0 150.8,53.8 152.4,54.0 152.6,54.7 154.3,55.5 156.7,56.0 157.0,56.4 158.2,56.3 159.2,58.5 160.0,59.4 160.1,59.5 160.7,60.7 161.4,60.6 162.6,61.6 163.6,62.3 163.9,63.3 165.0,64.5 164.7,66.7 165.6,66.8 165.0,68.4 165.2,69.3 165.9,72.1 165.4,72.6 165.5,73.2 166.4,74.7 167.6,75.8 166.8,78.4 168.1,78.2 168.9,79.0 169.8,81.6 171.0,82.2 170.6,82.8 170.7,84.7 171.5,86.0 171.3,86.3 172.4,88.9 172.6,89.9 172.4,91.0 171.2,91.9 171.3,92.4 170.6,94.1 170.8,96.1 171.8,96.9 171.9,99.2 171.9,99.5 170.5,100.6 170.6,101.9 171.6,104.4 172.2,105.1 172.2,107.0 171.3,108.1 172.6,109.6 172.2,110.4 171.0,112.3 171.1,113.6 171.8,114.2 170.8,116.5 171.1,116.5 170.2,117.8 170.9,120.2 169.3,121.5 169.9,122.5 168.5,123.6 167.7,124.0 168.6,126.1 167.1,127.6 166.8,128.7 167.0,128.6 165.9,130.1 165.7,131.9 165.5,132.9 165.3,135.1 165.4,135.6 165.2,137.4 164.5,138.5 164.1,139.0 163.6,139.1 162.8,140.4 161.4,142.5 160.7,142.6 160.6,143.4 158.8,143.9 158.2,145.1 156.4,145.4 155.6,145.7 155.4,146.9 154.0,148.2 153.4,148.4 152.1,149.6 151.1,151.0 150.2,151.8 149.4,153.5 148.9,154.4 148.5,154.5 147.1,156.7 146.6,156.3 144.6,157.7 143.7,158.2 142.7,159.7 143.2,161.0 141.3,161.6 141.4,161.6 140.9,163.9 138.8,164.5 138.1,164.4 138.2,165.7 136.4,166.4 136.7,167.8 135.7,169.1 135.6,169.1 134.2,170.3 132.3,170.8 132.3,171.6 130.3,173.0 130.4,173.4 128.1,172.6 126.9,173.9 126.2,173.5 125.4,175.5 125.1,175.1 123.0,177.0 122.6,177.3 120.6,176.4 120.4,177.3 118.2,178.6 118.0,178.7 115.9,179.1 114.6,179.2 114.0,178.4 112.9,179.7 111.2,178.4 110.2,178.4 108.2,178.1 106.8,178.3 106.0,179.1 105.5,179.6 103.8,180.0 102.3,180.1 100.8,180.7 100.6,182.3 98.6,182.6 98.8,182.5 97.5,183.6 95.9,184.7 94.6,184.5 94.0,185.7 92.3,185.7 91.6,185.4 89.8,184.8 87.9,184.5 86.6,185.4 85.6,184.5 83.9,185.6 84.0,185.2 81.6,184.5 80.3,184.9 78.8,184.8 77.6,185.7 77.5,185.0 75.0,185.6 73.8,184.5 72.1,184.4 71.7,184.5 70.0,184.3 68.4,183.8 67.4,183.8 66.1,183.0 65.5,182.7 64.9,182.7 64.1,182.5 63.0,182.3 61.3,180.8 61.3,180.1 59.6,180.5 57.2,180.4 57.4,179.6 56.0,179.3 53.7,178.4 53.1,178.5 52.4,177.9 50.7,177.5 49.5,176.7 47.3,175.1 45.8,175.2 45.0,175.1 44.9,173.9 44.2,173.2 43.2,171.2 42.8,171.5 41.5,170.2 40.8,168.5 40.0,168.0 37.9,167.1 38.1,166.1 37.1,166.6 35.9,164.7 34.9,164.4 34.6,163.4 33.5,161.6 31.8,161.1 32.1,160.1 31.1,158.5 29.6,157.8 29.9,157.4 29.2,155.7 28.2,154.9 27.8,153.2 28.1,152.3 27.9,152.5 25.9,150.6 26.9,150.4 25.9,148.2 24.7,148.5 23.9,146.9 23.1,145.9 23.5,144.4 22.6,144.1 22.5,143.2 20.8,142.5 20.7,139.9 19.4,139.6 20.0,137.9 19.5,136.6 19.2,136.2 18.3,134.8 20.2,132.4 20.7,132.1 21.2,130.1 20.5,129.0 20.4,128.5 18.5,127.4 17.4,125.9 16.0,126.4 15.5,125.4 14.3,123.3 14.1,122.0 13.8,121.9 14.8,120.2 14.5,119.0 15.3,117.0 15.0,114.9 15.4,114.2 15.6,113.2 14.0,110.9 14.6,109.8 13.0,108.8 12.0,108.2 13.9,106.0 13.8,104.8 14.4,103.6 14.4,101.9 14.6,101.8 15.0,99.3 15.7,99.3 14.8,96.5 14.7,95.1 15.2,93.7 15.3,92.6 15.8,92.3 16.8,90.4 16.8,89.5 17.3,88.1 17.5,87.0 19.5,85.6 19.5,85.4 21.2,83.7 20.9,82.6 22.2,82.0 22.2,81.6 20.9,79.0 18.9,79.1 19.4,77.6 18.2,75.7 17.2,76.3 17.1,75.1 18.6,73.2 17.8,71.9 19.5,71.8 21.0,70.8 21.1,69.7 21.6,68.4 21.8,67.8 22.4,66.8 24.1,65.0 23.6,63.7 25.2,63.6 24.7,61.3 25.7,61.0 25.7,59.1 26.6,57.7 26.4,57.2 28.0,56.5 28.6,55.1 28.5,53.8 30.4,53.4 30.0,51.1 31.2,51.3 32.1,49.7 33.1,49.6 33.2,47.1 34.5,46.8 36.1,45.6 37.5,45.8 38.0,43.9 39.9,43.5 40.7,42.8 40.9,43.3 42.3,43.3 43.9,41.6 44.6,41.5 46.3,41.6 46.4,39.9 47.1,39.6 47.8,37.1 48.3,36.4 51.0,36.7 51.9,36.3 53.6,34.9 53.5,35.1 55.7,33.2 56.8,33.2 57.5,32.9 58.4,32.2 59.8,32.6 62.1,31.9 63.3,32.0 63.5,32.8 65.5,32.0 65.4,31.6 67.0,31.7 68.0,30.5 70.3,29.4 70.8,30.5 72.6,29.0 72.6,28.3 75.5,29.1 76.7,30.5 77.4,29.6 79.7,29.7 79.7,28.8 80.9,27.3 81.6,27.5 84.4,26.6 85.7,25.0 85.7,25.1 88.2,26.0 88.6,25.1 89.9,25.6 92.0,24.9 93.1,25.7 94.6,26.1 95.7,24.8Z" fill="#bbbbbb"/>
<path d="M96.5,26.4 98.4,25.9 99.5,26.3 99.9,27.1 101.2,26.6 102.6,25.6 104.5,27.0 105.4,25.9 107.7,26.6 108.4,26.7 109.9,26.5 110.5,28.0 110.2,28.3 111.7,29.5 112.5,29.9 114.2,30.5 115.3,29.9 115.8,30.0 118.0,30.6 119.1,29.9 120.8,29.4 122.9,30.2 123.0,31.0 124.6,32.2 126.0,32.2 127.4,32.9 127.4,35.1 128.3,34.8 129.1,36.0 131.2,36.8 132.6,36.8 133.6,37.6 134.7,37.4 136.2,38.6 136.4,39.0 136.6,39.9 138.4,41.1 139.6,40.8 139.8,42.3 140.6,42.2 142.6,41.4 143.8,42.8 144.7,42.9 145.9,45.0 145.5,46.1 147.0,48.0 147.3,50.0 146.7,50.8 147.4,52.7 149.5,52.2 148.1,54.2 149.9,54.6 151.4,54.9 151.2,55.9 153.1,56.5 155.7,56.8 155.7,57.4 157.5,56.8 158.7,58.9 159.4,59.9 159.2,60.2 159.7,61.3 160.6,61.2 161.6,62.2 162.9,62.7 163.4,63.6 164.4,64.8 164.1,67.0 165.1,67.1 164.3,68.8 164.4,69.7 165.2,72.4 164.8,72.9 164.7,73.5 165.8,74.9 166.9,76.1 166.2,78.6 167.5,78.4 168.2,79.3 168.4,82.1 169.7,82.6 168.6,83.3 168.7,85.2 170.1,86.3 170.0,86.7 170.6,89.3 171.7,90.1 170.6,91.4 169.7,92.2 170.4,92.5 169.5,94.2 169.5,96.2 171.2,97.0 171.3,99.2 171.4,99.5 169.9,100.7 170.0,102.0 171.1,104.4 171.6,105.1 171.2,106.9 169.9,108.0 170.9,109.5 170.6,110.3 168.8,112.1 169.2,113.4 170.9,114.1 169.4,116.3 169.4,116.3 169.2,117.7 169.9,120.0 167.6,121.2 168.2,122.1 167.5,123.3 165.9,123.5 166.0,125.4 164.7,126.9 164.9,128.1 165.2,128.1 165.2,129.9 164.9,131.6 165.0,132.7 164.6,134.8 164.6,135.3 163.6,136.7 163.2,138.0 162.8,138.3 162.8,138.8 161.5,139.8 160.9,142.2 160.2,142.3 160.0,143.1 157.8,143.3 157.3,144.5 155.3,144.7 153.8,144.6 154.0,146.0 153.4,147.8 152.9,148.1 151.7,149.3 150.6,150.6 149.7,151.4 149.0,153.2 148.5,154.1 148.1,154.1 146.7,156.3 145.9,155.5 143.3,156.4 142.4,156.9 141.0,157.8 141.3,158.9 140.0,160.1 140.8,161.0 140.5,163.4 138.4,164.0 137.8,163.9 137.3,164.6 135.6,165.3 135.5,166.1 134.8,167.8 134.7,167.8 133.7,169.6 131.3,169.0 131.6,170.4 129.6,171.7 129.7,172.1 127.1,170.8 126.1,172.3 125.1,171.2 124.2,172.9 123.8,172.3 122.0,174.8 121.7,175.2 119.6,174.0 119.4,174.8 117.5,176.7 117.1,176.2 115.0,176.4 113.9,176.8 113.4,176.4 112.4,177.7 110.7,176.6 109.9,176.9 108.0,177.2 106.6,177.4 105.7,177.5 105.2,177.8 103.5,178.2 102.0,178.2 100.6,178.8 100.4,180.8 98.5,181.6 98.7,181.4 97.5,182.8 95.9,184.0 94.6,184.1 94.0,185.2 92.3,185.5 91.6,185.1 89.8,184.6 87.9,184.1 86.6,185.0 85.6,184.0 84.0,185.1 84.0,184.9 81.7,184.3 80.4,184.6 78.8,184.7 77.7,185.6 77.6,184.7 75.1,185.2 73.9,184.2 72.2,183.9 71.8,183.8 70.1,183.8 68.5,183.4 67.5,183.4 66.2,182.7 65.7,182.2 65.1,182.1 64.3,181.8 63.2,181.6 61.6,180.3 61.4,179.8 59.6,180.4 57.3,180.1 57.6,179.2 56.2,178.8 54.1,177.7 53.4,177.8 52.7,177.4 50.9,177.1 49.6,176.5 47.4,175.0 45.9,175.0 45.1,174.9 45.1,173.7 44.3,173.0 43.4,170.9 43.2,171.0 41.8,169.7 41.1,168.2 40.2,167.7 38.1,166.9 38.2,166.0 37.3,166.4 36.1,164.4 35.3,164.0 35.0,163.0 34.0,161.2 32.1,160.8 32.4,159.8 31.4,158.2 29.9,157.6 30.3,157.1 29.6,155.4 28.6,154.6 28.2,152.9 28.6,152.0 28.4,152.2 26.9,150.0 28.6,149.3 28.0,146.9 26.9,147.0 25.8,145.8 24.8,144.9 24.6,143.8 23.2,143.8 23.0,142.9 21.3,142.2 21.2,139.7 19.9,139.4 20.6,137.6 20.3,136.2 19.9,135.9 19.4,134.4 21.9,131.8 22.5,131.5 23.0,129.4 22.7,128.3 22.1,128.0 20.3,126.8 19.6,125.3 17.5,126.0 16.5,125.2 16.0,122.9 15.7,121.7 15.1,121.6 16.5,119.9 16.7,118.6 17.8,116.7 17.5,114.6 18.0,113.9 18.3,113.0 15.9,110.8 16.4,109.7 14.7,108.8 13.9,108.1 15.9,106.0 15.8,104.8 16.6,103.6 16.7,102.0 17.3,101.9 17.5,99.5 18.9,99.5 17.3,96.8 17.2,95.4 17.5,94.0 17.4,93.0 17.0,92.5 18.2,90.7 17.8,89.7 18.2,88.3 18.5,87.2 20.5,85.8 20.9,85.7 22.0,83.9 21.7,82.9 22.8,82.2 23.1,81.9 21.8,79.3 19.8,79.4 20.0,77.8 18.7,76.0 18.2,76.7 18.1,75.5 20.2,73.9 20.3,73.0 21.9,73.0 23.6,72.1 22.9,70.7 22.9,69.1 22.7,68.2 23.1,67.2 24.6,65.3 24.6,64.3 26.5,64.4 26.2,62.3 27.5,62.2 27.1,60.1 27.7,58.5 27.8,58.3 29.5,57.6 29.8,56.0 30.1,55.1 32.5,55.2 31.8,52.7 32.7,52.6 33.5,51.1 34.2,50.7 34.0,47.8 35.3,47.7 36.5,46.0 38.5,46.8 38.9,45.0 40.7,44.5 41.6,43.9 42.3,44.9 43.3,44.5 45.0,43.0 45.4,42.6 46.9,42.5 46.9,40.6 48.0,40.8 48.8,38.5 49.4,38.1 51.9,38.3 52.7,37.6 54.1,35.7 53.9,35.8 56.4,34.6 57.5,34.6 58.3,34.5 59.0,33.5 60.3,33.8 62.6,33.1 63.6,32.8 64.0,34.1 65.9,33.1 65.6,32.2 67.2,32.2 68.2,31.1 70.5,29.9 71.0,31.1 72.9,29.9 72.8,29.1 75.7,29.9 76.8,31.0 77.6,30.4 79.8,30.2 79.7,29.4 81.0,27.8 81.7,28.1 84.5,27.2 85.7,25.6 85.8,26.1 88.2,26.6 88.6,25.6 89.9,26.2 92.0,25.8 93.1,26.6 94.5,27.3 95.6,26.4Z" fill="#ffffff"/>
<g clip-path="url(#hzc)">
<path d="M26.1,61.9 26.3,63.1 27.0,65.8 26.9,66.2 26.8,68.1 26.5,70.8 27.6,70.8 27.0,73.5 25.8,74.6 26.7,76.5 27.2,78.4 26.6,80.2 28.6,82.1 28.3,82.0 27.7,83.8 29.8,85.6 30.0,87.7 31.2,88.1 32.6,88.2 34.2,90.6 34.8,90.0 36.6,90.2 38.2,92.1 39.9,92.1 41.6,92.0 41.5,94.0 42.0,95.1 42.7,96.7 42.0,99.6 41.8,99.3 39.1,99.3 37.2,100.3 35.4,99.8 34.6,100.5 33.6,102.3 32.5,102.4 31.4,104.1 30.4,106.4 30.7,107.5 29.6,109.4 29.8,111.1 29.7,113.3 28.9,114.9 30.4,116.7 30.2,117.7 31.5,119.3 32.8,120.1 34.7,121.2 36.0,121.4 37.3,123.5 38.6,122.6 39.3,124.2 40.8,124.1 42.3,125.4 44.5,127.0 44.1,128.4 44.8,129.9 44.6,132.3 44.0,133.0 43.3,135.4 41.6,135.6 41.7,137.7 41.0,138.8 40.6,140.0 40.2,142.6 39.1,144.2 39.2,146.1 38.5,147.5 40.4,148.9 41.3,149.1 41.3,150.2 40.1,152.9 38.2,153.1 36.9,154.2 36.1,155.3 37.8,158.1 37.1,159.2 37.8,160.2 37.6,161.9 38.9,162.5 39.6,164.5 41.2,165.1 42.2,167.7 43.7,168.5 43.2,169.4 44.3,169.9 45.6,171.9 45.0,172.4 42.6,172.7 41.9,171.2 40.4,170.1 39.5,169.5 38.7,167.9 37.6,166.9 36.9,166.3 36.1,164.7 35.0,164.6 34.3,163.1 31.5,162.2 32.0,159.4 30.3,158.7 30.2,157.9 28.5,155.8 27.4,154.4 28.0,154.3 26.4,152.3 27.2,149.7 25.9,148.6 25.6,148.3 22.8,146.0 23.2,145.6 21.5,145.0 21.3,143.8 19.8,140.7 19.7,139.2 19.2,138.9 18.5,136.6 17.7,134.1 19.0,134.0 20.2,131.2 20.6,130.7 20.1,129.1 19.1,127.9 16.9,127.8 16.5,126.2 15.4,125.8 13.4,124.5 13.5,122.5 13.0,121.3 12.3,119.8 12.3,119.3 12.7,116.9 13.8,115.8 14.5,112.8 13.2,111.0 12.1,110.1 13.2,108.3 11.2,108.0 12.1,105.9 13.7,104.3 13.6,103.6 13.7,101.9 13.4,100.4 14.5,98.7 14.5,97.7 13.7,95.9 14.8,93.2 15.0,92.2 15.6,89.4 17.5,88.1 16.8,87.8 18.0,85.7 19.6,85.4 20.2,84.0 21.7,82.0 20.7,79.7 19.1,79.6 19.1,77.3 18.1,76.8 17.1,75.4 15.6,74.0 17.8,72.5 18.6,71.8 18.0,71.1 18.8,69.8 20.3,68.7 21.9,66.4 22.4,66.3 22.2,63.6 23.1,63.4 23.7,61.1 25.0,60.5Z" fill="#bebebe"/>
<path d="M166.1,83.9 165.1,84.5 164.6,86.6 163.3,86.4 162.0,87.7 160.9,90.5 161.6,90.5 160.6,93.2 158.4,93.4 157.5,94.5 156.1,95.7 153.7,96.7 153.9,97.8 152.5,97.4 150.6,98.8 151.5,100.4 149.8,102.7 150.7,103.1 151.9,103.2 153.2,105.6 151.0,105.1 150.0,105.4 148.8,107.4 147.7,107.5 146.6,107.4 147.5,108.4 149.0,108.5 150.7,109.1 151.0,111.0 153.8,110.9 153.8,112.0 154.6,114.2 153.1,114.1 152.3,114.9 151.3,116.8 150.2,117.0 148.1,117.6 146.1,118.9 148.2,118.6 149.2,119.2 151.6,119.6 153.7,120.5 154.0,120.6 156.7,121.0 156.9,121.5 157.3,123.6 157.8,124.9 159.0,126.7 159.6,127.7 160.4,130.8 160.6,130.7 160.1,133.1 160.4,133.8 160.8,135.9 162.6,137.6 161.8,139.2 162.0,140.9 163.1,142.9 163.9,140.5 164.6,139.7 164.5,136.9 166.1,136.1 166.4,134.3 167.0,132.5 167.3,131.8 166.9,129.9 168.1,128.6 167.6,127.2 169.6,125.8 170.5,123.0 170.5,121.1 170.9,120.9 170.7,118.2 170.7,116.4 171.1,114.7 172.6,114.6 171.8,112.8 172.4,110.9 172.0,109.6 172.4,107.4 171.9,106.5 172.2,104.2 172.1,103.8 172.4,101.9 170.8,99.9 170.7,97.7 170.9,96.9 172.0,95.7 171.3,94.3 171.9,92.4 171.7,90.7 172.0,89.7 172.0,87.6 171.8,86.1 171.9,84.9 171.8,82.7 170.1,84.1 168.7,84.0Z" fill="#bebebe"/>
<path d="M146.1,155.9 144.9,156.5 144.1,158.6 142.5,158.4 141.0,159.7 139.5,159.8 139.9,157.2 138.6,157.2 135.8,156.6 134.3,156.9 134.6,159.0 133.8,161.0 135.6,163.1 135.2,163.2 132.8,164.0 133.1,165.0 130.8,166.7 129.8,164.9 129.2,162.9 128.7,163.1 126.4,161.7 125.3,161.0 124.0,162.1 122.8,161.7 121.6,161.1 119.6,161.6 118.2,161.3 117.0,161.9 114.4,163.8 114.3,163.8 111.8,164.0 111.1,166.2 110.4,166.8 110.4,168.4 111.6,170.9 112.7,171.6 112.7,172.9 110.9,174.1 110.2,174.2 108.5,175.2 108.1,175.8 107.3,176.8 104.7,177.0 104.5,177.5 102.6,177.2 101.0,178.4 99.5,179.2 98.5,180.2 97.0,180.4 96.9,183.3 96.8,183.2 97.5,183.4 99.1,181.9 100.6,181.9 103.8,181.4 104.5,180.8 106.2,180.3 108.2,180.6 109.9,179.8 111.6,180.6 112.5,179.4 114.9,179.9 116.6,179.3 118.5,178.8 120.1,179.3 121.1,178.7 123.2,178.4 123.3,177.6 126.0,176.9 127.7,174.9 128.5,173.9 129.8,174.5 130.5,172.8 131.7,171.8 133.4,170.9 136.3,171.6 136.7,170.6 137.5,168.8 137.4,167.6 138.0,165.5 138.7,165.1 140.3,163.2 141.3,163.3 142.9,161.9 142.5,160.4 143.6,158.6 145.0,158.3 147.0,157.5Z" fill="#bebebe"/>
<g fill="none" stroke-linecap="round"><path d="M24.3,117.2 L27.7,118.7 M25.7,114.1 L27.0,113.2 M28.6,113.8 L29.8,112.8 M36.0,136.5 L38.3,135.7 M35.5,132.9 L37.4,134.2 M24.2,120.7 L27.2,122.1 M27.0,131.8 L28.8,130.2 M38.6,165.9 L39.0,164.5 M25.8,83.4 L27.4,85.1 M26.2,73.6 L27.5,73.2 M27.6,125.4 L31.5,127.2 M28.8,134.8 L31.4,133.5 M30.2,99.7 L33.0,97.5 M40.1,98.5 L40.3,100.1 M34.2,131.1 L35.0,129.4 M14.0,108.6 L14.9,110.9 M39.2,142.9 L38.6,140.8 M28.4,107.4 L30.8,107.0 M19.6,122.1 L23.3,122.0 M24.9,112.9 L26.2,109.3 M33.1,154.8 L33.1,151.2 M26.9,106.9 L29.0,105.7 M35.4,90.7 L39.8,91.1 M35.6,158.8 L37.1,157.8 M37.5,91.9 L40.5,90.6 M26.5,116.3 L30.1,114.3 M21.4,143.2 L23.6,140.3 M43.7,171.8 L44.4,169.1 M27.7,142.3 L30.8,140.2 M29.3,109.9 L32.3,112.2 M21.7,82.2 L23.8,82.9 M40.2,96.4 L41.6,96.7 M24.8,77.7 L27.9,76.4 M40.1,128.5 L41.4,128.0 M35.5,129.2 L34.5,128.4 M16.8,98.2 L20.4,98.0 M24.2,74.2 L25.5,73.7 M17.3,124.5 L21.2,124.1 M25.8,102.3 L26.2,105.2 M36.2,138.6 L37.0,137.7 M21.3,110.9 L23.5,112.6 M28.3,87.8 L30.7,88.6 M29.6,100.6 L30.9,99.7 M15.4,110.4 L18.6,110.7 M38.2,140.5 L40.4,138.3 M25.0,78.3 L26.2,77.3 M26.8,96.3 L29.4,95.2 M30.7,134.6 L34.4,134.0 M39.1,127.5 L41.8,128.7 M36.0,98.2 L37.5,97.3 M16.1,117.8 L19.4,116.7 M31.0,119.1 L32.5,119.0 M27.4,145.6 L28.9,144.2 M31.1,131.9 L33.0,133.1 M39.2,149.2 L40.7,147.8 M26.4,133.9 L27.6,133.3 M25.8,63.4 L24.5,64.9 M18.4,118.7 L20.4,119.9 M39.9,139.9 L42.6,139.2 M31.1,122.9 L32.6,120.1 M19.6,100.6 L22.8,102.1 M34.2,131.4 L35.2,130.0 M20.1,128.1 L21.1,130.2 M21.3,124.0 L23.8,123.9 M36.7,142.4 L38.1,141.7 M38.1,125.3 L41.9,123.9 M36.7,162.9 L40.7,161.6 M21.8,74.1 L23.3,75.6 M19.3,121.7 L23.1,121.0 M24.5,100.3 L25.2,103.3 M160.1,121.9 L158.6,121.3 M164.8,94.2 L162.5,92.6 M154.3,120.1 L152.9,118.2 M166.4,117.3 L164.9,116.6 M171.7,92.1 L169.4,93.8 M148.4,107.7 L144.4,107.1 M160.4,127.9 L158.3,129.1 M168.6,83.8 L164.6,83.2 M159.7,125.3 L157.8,125.1 M157.4,109.0 L153.8,107.3 M160.1,127.1 L158.6,127.1 M152.9,106.4 L151.3,105.8 M166.5,85.6 L164.5,84.5 M152.9,99.1 L149.4,101.3 M163.1,100.8 L160.9,98.7 M170.0,121.4 L169.5,120.1 M167.4,119.0 L166.3,118.7 M160.1,103.4 L156.3,105.2 M164.4,136.0 L161.3,137.2 M166.5,118.3 L165.7,119.7 M169.5,123.5 L168.0,123.4 M153.0,98.8 L150.6,97.1 M163.8,135.1 L161.8,133.3 M169.2,89.3 L165.8,91.3 M151.9,119.0 L147.7,119.2 M114.4,172.9 L112.6,171.2 M106.4,180.1 L104.6,179.6 M118.3,173.5 L117.5,170.7 M136.2,157.2 L133.0,158.3 M102.5,179.9 L101.8,178.9 M122.3,165.6 L123.7,162.0 M117.8,169.3 L116.9,167.6 M109.6,178.4 L110.1,174.8 M119.5,178.4 L120.0,176.1 M118.2,169.4 L114.1,168.6 M120.3,176.7 L120.7,172.3 M120.9,167.3 L119.9,165.2 M106.7,179.7 L106.6,176.1 M122.6,169.3 L120.7,169.7 M139.3,160.7 L139.9,157.4 M115.1,164.1 L115.8,162.5 M130.8,166.4 L129.6,163.5 M116.7,167.3 L112.2,166.9 M121.4,163.0 L120.6,162.1 M117.1,171.5 L115.9,171.0 M111.1,177.9 L110.6,174.8 M117.2,170.8 L112.9,170.4 M126.4,174.9 L126.3,172.9" stroke="#b7b7b7" stroke-width="1.6"/><path d="M40.7,94.1 L39.7,96.9 M36.2,95.5 L39.2,92.4 M26.0,129.4 L27.1,127.3 M33.3,93.6 L37.5,94.8 M22.1,107.5 L23.3,106.1 M39.6,136.7 L41.7,135.8 M37.4,125.7 L38.0,123.6 M23.5,128.4 L25.6,127.9 M39.5,99.1 L40.2,94.7 M21.7,124.9 L23.2,125.4 M40.9,136.4 L43.2,135.1 M24.6,96.5 L27.3,95.6 M31.1,119.2 L34.5,120.1 M25.5,141.9 L28.7,139.6 M27.3,116.4 L28.6,115.8 M27.7,111.0 L30.8,110.2 M35.7,154.7 L35.2,151.9 M36.7,137.6 L36.5,138.9 M16.9,92.1 L18.1,90.1 M27.5,152.1 L30.9,150.6 M18.9,95.0 L22.1,94.4 M35.8,149.3 L37.3,147.6 M20.6,88.7 L22.6,91.9 M18.5,76.3 L21.5,76.9 M27.8,94.6 L27.7,97.9 M22.4,90.9 L25.8,89.0 M20.5,74.8 L24.1,73.9 M22.4,79.7 L23.6,80.1 M29.0,146.8 L30.7,147.1 M36.5,164.4 L35.1,160.7 M21.3,101.2 L23.2,104.8 M15.6,108.8 L19.0,106.3 M20.7,87.2 L23.7,87.8 M39.4,97.4 L43.7,97.0 M21.5,125.6 L23.5,125.5 M21.0,129.9 L22.2,129.3 M36.6,136.9 L39.9,135.4 M37.0,95.0 L38.4,96.1 M28.7,90.3 L31.7,90.3 M17.7,108.5 L21.9,108.3 M22.7,66.1 L26.1,68.5 M16.0,98.4 L18.7,101.1 M30.8,135.6 L32.6,134.8 M36.7,139.2 L36.4,137.0 M32.7,131.4 L33.9,132.1 M33.5,94.7 L35.9,97.4 M23.4,121.0 L25.0,119.8 M24.1,133.2 L25.6,132.4 M21.8,126.6 L23.3,126.3 M36.9,137.4 L38.2,134.4 M38.6,94.6 L43.0,95.3 M23.9,124.3 L25.8,121.5 M23.3,66.7 L25.6,68.3 M43.5,128.7 L47.1,127.0 M37.3,165.2 L37.9,162.2 M20.8,125.2 L22.2,125.1 M28.7,130.6 L29.6,129.3 M18.7,93.2 L21.6,92.8 M35.1,143.7 L36.2,142.9 M30.8,126.9 L33.2,126.3 M25.0,128.3 L28.9,127.1 M25.1,84.3 L26.0,87.4 M23.6,108.4 L25.9,111.8 M26.0,64.3 L28.6,63.0 M28.7,111.7 L30.7,109.4 M29.9,95.4 L31.1,98.5 M34.6,153.9 L36.5,149.9 M35.3,140.3 L36.9,136.3 M34.6,155.5 L35.1,153.1 M18.9,70.7 L20.0,74.8 M39.5,149.9 L42.4,146.7 M31.0,150.8 L27.8,148.5 M157.5,104.2 L156.2,106.2 M153.7,96.7 L153.3,98.1 M171.5,89.1 L169.4,87.7 M161.0,100.5 L160.3,98.1 M155.7,109.9 L154.2,110.2 M164.7,132.2 L162.6,129.9 M168.6,86.4 L165.9,87.3 M167.8,87.9 L166.7,84.6 M165.4,127.7 L162.5,125.1 M163.1,127.4 L161.2,127.8 M156.2,95.2 L153.9,96.1 M166.4,90.5 L162.9,90.4 M169.6,102.9 L168.4,101.0 M156.2,100.9 L152.8,102.0 M165.4,133.8 L163.1,134.6 M170.3,107.1 L169.0,106.5 M164.8,87.7 L161.1,87.1 M164.5,112.5 L162.2,111.5 M166.9,93.5 L165.4,95.1 M169.0,88.2 L167.0,86.9 M171.3,107.3 L170.1,108.6 M115.4,165.2 L114.7,163.0 M117.7,175.4 L114.2,173.8 M125.5,166.3 L122.4,164.2 M122.5,170.3 L122.8,166.7 M128.1,165.3 L126.5,168.2 M128.6,169.9 L129.5,167.6 M126.2,164.0 L127.8,161.3 M98.0,182.0 L97.1,181.1 M120.1,173.0 L117.9,171.3 M122.3,167.9 L121.7,166.1 M120.3,174.8 L120.0,172.7 M120.1,175.4 L120.4,172.0 M126.5,169.7 L125.9,168.2 M127.3,172.6 L125.5,168.7 M126.6,170.1 L123.3,167.6 M117.3,168.5 L116.7,167.4 M118.8,168.3 L117.6,168.7 M120.6,169.7 L122.6,167.1 M115.8,176.5 L113.2,175.4 M137.3,167.4 L136.0,165.6 M120.4,177.7 L117.5,178.8 M124.0,168.2 L122.5,167.8 M130.0,168.3 L128.8,169.1 M108.0,178.5 L107.1,176.9 M108.9,178.6 L111.0,175.3" stroke="#9c9c9c" stroke-width="1.6"/><path d="M17.3,94.3 L18.4,92.3 M16.4,125.2 L18.5,125.0 M33.9,150.4 L35.3,150.1 M22.2,141.0 L24.2,139.4 M20.5,92.1 L23.3,91.2 M25.7,142.9 L28.6,141.3 M21.0,129.5 L22.8,128.0 M15.6,111.0 L13.8,111.3 M14.6,100.2 L16.9,97.9 M18.2,117.0 L21.8,116.6 M26.6,139.8 L29.3,138.9 M162.2,115.1 L158.4,115.8 M166.2,113.3 L165.5,111.9 M163.9,104.1 L162.2,105.5 M167.5,127.0 L164.3,124.5 M164.8,129.6 L162.5,127.4 M168.3,121.7 L164.4,122.9 M110.0,179.8 L111.2,178.1 M122.4,174.1 L121.2,170.6" stroke="#8a8a8a" stroke-width="1.6"/><path d="M23.2,82.5 L25.6,81.0 M21.3,89.0 L22.5,89.5 M22.3,90.5 L26.5,90.1 M17.1,96.1 L18.1,92.4 M17.2,105.7 L19.3,105.3 M30.5,148.6 L32.1,148.2 M25.3,134.1 L27.9,133.7 M22.4,125.2 L23.5,127.3 M22.1,133.4 L25.8,133.6 M17.6,112.8 L20.1,111.8 M31.3,142.8 L32.6,144.3 M16.4,103.3 L18.1,102.3 M30.0,157.3 L30.2,153.3 M32.1,154.8 L33.1,153.6 M19.1,115.4 L21.8,114.5 M27.6,137.2 L29.8,136.4 M23.5,79.2 L24.5,81.5 M171.3,87.4 L169.8,91.0 M168.1,116.7 L166.8,117.2 M164.4,136.1 L164.1,134.3 M166.6,131.1 L164.2,127.9 M165.0,85.2 L162.5,85.3 M163.2,112.9 L161.2,113.0 M113.3,176.3 L114.6,175.6 M105.3,179.8 L104.1,180.3 M110.0,174.9 L111.6,173.1" stroke="#8a8a8a" stroke-width="1.2"/><path d="M40.0,127.5 L39.4,125.4 M35.4,159.3 L34.4,157.8 M20.8,68.9 L22.5,72.3 M15.4,102.2 L16.8,100.3 M25.4,106.0 L26.8,101.7 M29.8,139.3 L32.1,139.7 M23.2,89.3 L27.4,88.5 M24.8,83.2 L26.7,86.9 M21.3,138.8 L20.5,140.4 M39.9,130.4 L41.9,126.6 M32.0,161.1 L34.2,160.3 M18.0,102.1 L21.1,102.2 M22.0,115.9 L20.5,113.1 M21.8,81.2 L24.0,83.9 M33.0,90.0 L36.4,91.3 M39.7,168.1 L41.5,165.1 M21.7,141.6 L24.0,145.0 M32.6,142.0 L35.3,140.5 M35.3,145.7 L36.8,143.6 M33.9,92.2 L37.0,93.5 M24.3,141.6 L27.3,140.6 M36.3,153.9 L40.7,153.3 M32.2,97.4 L34.9,96.3 M18.7,122.1 L20.9,122.2 M28.9,117.7 L33.1,118.8 M22.2,96.2 L23.7,97.1 M22.9,140.1 L25.0,141.8 M15.2,107.6 L18.5,109.0 M22.1,135.9 L20.7,134.6 M37.3,149.2 L38.0,146.5 M26.4,67.3 L28.2,67.9 M21.5,75.1 L25.1,73.9 M29.2,97.8 L33.3,96.4 M37.3,154.3 L37.8,150.9 M40.6,133.5 L42.7,130.6 M20.0,124.7 L23.3,123.7 M19.5,125.0 L20.7,122.3 M34.5,160.5 L36.7,160.3 M26.4,145.9 L28.4,146.4 M18.7,90.0 L18.7,93.2 M21.9,117.1 L25.5,115.6 M21.4,74.8 L23.4,75.7 M25.2,83.1 L27.4,85.2 M26.3,108.8 L27.1,107.1 M35.6,163.1 L37.2,159.0 M39.7,168.2 L40.2,163.9 M13.8,107.3 L14.8,110.2 M31.5,95.3 L31.9,93.9 M17.6,114.9 L19.0,115.1 M21.0,134.9 L20.4,133.3 M22.8,88.9 L26.5,87.2 M24.7,112.0 L25.9,112.9 M19.9,100.2 L21.4,104.1 M25.6,88.3 L26.0,90.6 M15.9,90.8 L17.0,92.8 M22.3,131.7 L25.1,131.6 M32.2,94.2 L35.5,96.6 M28.6,137.4 L29.5,135.7 M35.9,163.4 L37.8,161.9 M158.6,114.7 L155.5,114.0 M159.6,125.4 L157.7,124.1 M162.2,114.7 L160.7,116.1 M166.4,119.7 L164.4,120.6 M161.2,124.4 L159.4,124.9 M165.9,118.1 L164.3,118.8 M166.1,123.5 L165.0,122.5 M170.7,104.3 L167.2,104.1 M166.6,116.4 L162.8,116.4 M154.5,115.3 L151.7,118.2 M166.8,95.1 L163.6,96.2 M165.2,115.7 L162.8,115.8 M153.7,115.4 L149.4,114.2 M148.9,118.0 L146.9,117.7 M164.4,100.1 L161.1,100.9 M162.7,90.3 L161.3,90.0 M155.8,95.5 L153.5,93.4 M166.0,111.7 L164.6,110.1 M163.0,127.0 L160.1,123.6 M163.6,95.4 L161.4,96.6 M103.9,179.3 L100.7,179.0 M127.7,174.8 L127.3,172.4 M115.8,174.8 L117.0,172.2 M100.5,181.6 L101.9,177.6 M125.6,172.1 L122.9,169.1 M106.4,177.5 L104.3,175.4 M122.3,173.3 L121.3,170.6 M110.9,169.1 L109.7,167.1 M124.7,165.1 L125.3,163.9 M120.2,177.5 L120.7,176.3 M105.3,178.2 L105.2,174.8 M141.4,161.6 L139.2,160.2 M142.9,158.7 L141.0,158.9 M118.2,177.3 L119.2,173.3 M123.6,175.4 L121.0,172.2 M117.7,173.0 L118.6,169.2 M139.6,161.7 L136.1,163.9 M126.2,171.3 L127.9,168.1 M136.2,168.6 L134.0,165.7" stroke="#9c9c9c" stroke-width="1.2"/><path d="M26.3,146.4 L27.6,149.3 M27.3,130.3 L29.8,131.4 M36.2,145.1 L39.7,143.8 M27.4,120.8 L31.1,118.9 M28.0,129.6 L29.6,129.2 M32.7,140.0 L33.0,138.0 M19.3,119.3 L21.3,118.3 M34.5,96.3 L35.4,99.9 M36.2,143.7 L37.3,142.6 M20.2,76.7 L21.6,76.9 M17.1,110.1 L18.6,113.5 M20.0,119.6 L21.3,116.8 M24.8,112.7 L27.1,115.2 M29.6,126.1 L32.0,125.3 M44.2,129.6 L47.3,127.0 M36.4,124.0 L37.4,125.6 M34.2,152.7 L35.8,150.8 M23.6,95.5 L25.1,97.3 M21.6,133.1 L22.8,131.4 M24.1,80.8 L25.5,78.2 M33.8,123.3 L35.9,123.3 M26.7,109.8 L27.5,107.0 M23.9,81.7 L25.6,83.0 M34.3,93.4 L35.9,93.5 M25.4,134.8 L27.7,132.4 M35.9,93.1 L36.8,93.9 M28.7,99.9 L33.1,99.6 M14.3,111.7 L15.1,109.5 M16.1,116.9 L12.1,115.0 M18.7,107.9 L20.8,106.8 M29.6,127.3 L30.8,125.1 M31.7,97.2 L33.5,99.3 M26.7,149.2 L29.8,147.8 M28.5,123.6 L30.6,120.7 M32.5,95.1 L33.8,96.9 M22.5,88.3 L24.4,88.3 M44.4,171.8 L45.4,169.8 M27.5,93.1 L29.7,91.6 M37.5,136.7 L38.9,133.7 M35.2,159.7 L36.4,159.1 M19.9,72.4 L21.6,73.3 M19.8,110.8 L22.6,110.9 M27.2,122.9 L31.4,124.0 M25.8,108.4 L26.3,112.3 M39.6,166.9 L37.0,164.2 M39.5,136.7 L43.9,136.8 M37.3,99.9 L39.4,100.3 M21.2,134.4 L23.4,133.8 M38.7,142.9 L41.8,140.2 M40.9,127.6 L44.0,126.4 M13.8,116.5 L16.9,115.9 M39.6,131.4 L40.7,132.2 M34.1,128.9 L32.9,130.8 M16.8,123.7 L20.3,122.5 M28.4,89.0 L29.3,91.9 M19.3,107.1 L20.5,109.9 M18.3,122.0 L19.4,121.2 M29.9,121.2 L32.6,122.2 M19.0,76.9 L19.2,80.7 M28.9,124.1 L30.7,121.6 M20.4,136.8 L23.8,135.0 M32.6,147.2 L36.4,145.3 M21.4,140.0 L21.9,138.9 M33.0,90.9 L35.7,92.6 M34.7,150.9 L36.6,151.1 M35.5,125.9 L37.6,125.3 M35.4,97.3 L36.8,96.3 M40.6,98.4 L43.9,95.4 M27.2,96.1 L29.2,99.0 M35.8,154.1 L37.6,153.9 M25.0,107.0 L28.1,106.1 M18.7,103.9 L20.3,104.7 M32.9,129.9 L34.7,129.4 M38.4,139.8 L38.0,137.6 M155.3,107.8 L153.8,107.4 M169.5,108.3 L168.6,107.3 M167.3,119.6 L164.5,120.1 M154.6,106.5 L155.7,102.9 M163.2,106.8 L160.0,104.7 M159.6,112.7 L157.1,114.6 M168.0,118.6 L166.2,118.6 M168.7,88.0 L168.3,85.4 M169.1,123.7 L165.0,125.2 M163.3,90.9 L162.2,92.3 M157.7,102.0 L155.9,102.0 M162.0,129.2 L159.4,127.3 M159.4,122.5 L159.7,119.3 M170.3,97.4 L167.7,96.0 M159.0,118.6 L157.7,119.2 M152.2,107.2 L151.1,107.7 M165.0,107.5 L162.2,106.9 M163.0,97.1 L159.9,100.1 M122.7,165.9 L122.2,162.6 M119.2,170.3 L115.5,167.8 M132.3,171.2 L132.1,167.3 M114.3,165.6 L113.8,163.4 M137.8,158.3 L136.4,155.6 M123.0,167.8 L120.9,164.1 M129.5,167.4 L126.8,164.8 M111.3,178.3 L112.6,177.4 M127.4,163.2 L126.7,159.4 M112.5,166.5 L108.6,165.0 M124.8,163.1 L124.7,160.4 M119.4,168.7 L122.3,166.0 M111.9,169.4 L109.0,169.6 M111.3,177.4 L111.9,173.1 M120.9,169.4 L118.2,169.3 M118.3,165.6 L119.3,162.3 M121.3,176.0 L120.6,171.6 M122.8,163.9 L121.3,163.2 M134.0,166.4 L131.0,168.1 M101.4,180.0 L103.2,177.3 M121.6,162.5 L118.6,159.3 M106.9,178.7 L108.0,174.5 M121.0,165.8 L118.4,164.0 M124.5,165.6 L124.1,163.0 M98.7,181.0 L99.6,178.9" stroke="#b7b7b7" stroke-width="1.2"/><path d="M15.8,118.8 L19.5,118.3 M20.6,90.9 L22.5,91.1 M25.4,144.4 L26.9,142.9 M24.6,64.3 L27.1,66.5 M39.7,166.2 L40.3,162.9 M24.4,107.1 L26.3,108.0 M28.6,86.1 L29.8,84.4 M24.3,100.0 L27.4,100.6 M20.1,123.3 L21.1,121.3 M26.4,103.9 L27.6,102.7 M30.9,140.8 L32.3,140.9 M16.8,108.9 L17.9,107.8 M19.4,108.1 L22.3,107.9 M20.6,139.6 L21.2,136.6 M19.7,72.8 L21.7,73.0 M25.1,140.1 L26.5,139.2 M35.9,134.8 L39.6,136.7 M29.2,90.7 L31.3,90.6 M19.5,124.2 L20.0,120.6 M20.0,132.2 L22.6,128.8 M20.5,136.0 L23.9,134.4 M25.3,81.6 L29.3,81.3 M19.1,115.3 L20.4,115.2 M25.0,89.1 L28.8,89.6 M40.7,167.6 L43.5,168.5 M15.4,100.1 L16.7,102.8 M15.3,116.7 L18.2,116.4 M17.1,75.0 L19.0,77.0 M44.6,171.4 L46.3,170.3 M39.1,135.9 L40.0,134.1 M23.1,90.0 L21.7,91.7 M24.6,121.4 L27.3,121.9 M38.9,95.5 L41.4,95.7 M22.0,74.2 L23.7,75.8 M28.0,83.1 L31.6,83.6 M23.4,104.9 L23.7,100.8 M23.8,80.2 L22.8,84.2 M19.7,106.4 L22.7,107.0 M32.8,143.1 L34.0,141.7 M31.9,143.7 L35.5,145.6 M23.0,143.6 L19.9,141.4 M21.2,81.3 L21.9,83.0 M29.3,153.5 L28.7,150.1 M23.4,128.4 L24.0,126.3 M33.4,145.8 L34.7,144.7 M24.8,74.8 L27.4,74.9 M28.1,107.6 L29.7,108.0 M18.3,74.9 L21.8,73.5 M36.7,152.2 L39.3,151.2 M27.7,108.6 L30.8,110.0 M34.7,132.2 L38.6,130.5 M25.3,117.2 L26.2,116.2 M25.2,123.1 L28.8,122.3 M35.0,134.2 L36.6,135.2 M33.7,150.0 L34.0,145.8 M40.9,169.2 L37.4,167.7 M21.9,78.9 L23.9,77.3 M25.5,113.3 L26.7,110.8 M159.8,120.2 L155.8,118.4 M165.7,115.1 L164.0,114.1 M167.4,115.2 L163.4,114.7 M153.5,107.1 L152.8,109.0 M167.6,118.8 L166.6,117.8 M169.7,112.7 L168.5,110.1 M162.1,96.0 L159.9,94.0 M152.5,105.8 L151.2,105.7 M168.2,84.6 L167.2,87.0 M164.5,131.4 L162.5,133.2 M169.2,89.0 L165.0,88.6 M161.5,133.9 L160.5,132.5 M168.7,115.1 L166.1,117.7 M170.6,95.8 L169.5,97.9 M165.7,110.9 L162.6,111.3 M169.3,88.1 L167.7,91.9 M165.0,97.6 L163.5,99.5 M148.8,108.2 L147.7,107.1 M159.5,116.4 L155.9,115.9 M167.1,99.0 L164.1,98.6 M117.2,176.2 L114.2,173.0 M108.3,179.8 L109.1,177.5 M118.4,172.4 L118.3,168.4 M99.4,182.1 L98.8,179.3 M121.6,172.2 L118.9,171.6 M118.3,169.5 L119.5,168.5 M135.5,164.8 L133.8,163.7 M120.8,171.1 L122.1,168.3 M105.0,177.5 L104.2,175.8 M102.9,179.8 L104.8,177.6 M111.9,175.9 L112.7,174.3 M115.0,175.3 L117.0,171.8 M101.5,181.3 L103.3,178.2 M106.5,178.6 L109.0,175.6 M123.5,163.3 L120.5,162.1 M113.8,172.7 L113.6,170.9 M119.4,166.8 L117.4,166.9 M117.3,171.4 L116.4,168.4 M111.1,177.9 L114.8,175.4 M137.1,159.6 L133.4,158.1 M119.4,162.3 L118.6,160.4 M112.7,171.9 L110.9,168.3 M108.8,178.4 L108.3,176.4 M103.4,180.2 L106.4,177.6 M125.0,172.4 L122.9,171.0" stroke="#9c9c9c" stroke-width="0.9"/><path d="M28.8,149.2 L31.7,147.7 M25.3,125.1 L28.1,124.4 M29.3,90.4 L30.7,91.8 M45.6,171.6 L48.1,168.5 M35.4,98.9 L37.6,99.0 M34.9,151.2 L33.3,148.7 M29.9,107.3 L34.0,108.7 M29.8,100.8 L32.8,99.0 M31.3,91.5 L32.9,91.3 M41.5,133.5 L42.1,130.4 M26.7,121.4 L30.1,121.4 M28.3,131.8 L30.1,131.5 M29.5,97.9 L31.9,97.4 M26.4,128.5 L27.7,127.3 M32.9,153.2 L36.8,151.0 M18.2,89.1 L17.8,93.1 M18.8,124.1 L20.4,123.9 M24.2,136.6 L26.2,132.8 M29.2,98.2 L32.9,98.7 M30.0,104.0 L31.3,105.4 M26.9,90.0 L30.4,89.0 M29.0,120.4 L32.6,122.9 M35.4,138.2 L36.2,133.8 M37.8,98.6 L40.4,97.1 M35.5,140.8 L38.9,140.5 M41.0,93.6 L42.1,95.2 M27.4,125.0 L29.0,121.3 M38.4,142.3 L41.2,142.2 M38.8,136.8 L41.2,137.2 M21.4,106.7 L23.6,105.9 M24.1,83.7 L26.8,83.2 M21.1,93.1 L22.6,93.4 M34.9,157.8 L36.2,157.9 M16.0,110.2 L16.8,108.4 M28.5,90.4 L29.6,86.3 M29.0,152.4 L32.0,151.7 M21.5,83.4 L25.7,84.9 M28.3,124.8 L30.7,125.5 M27.2,87.3 L28.4,87.7 M17.5,112.2 L20.7,111.9 M42.1,125.2 L43.3,124.6 M17.3,111.4 L18.4,112.0 M29.6,99.6 L32.1,99.0 M35.7,160.6 L36.0,157.7 M39.5,133.1 L42.0,130.6 M26.3,148.7 L29.7,147.3 M19.8,96.5 L23.1,96.8 M20.9,77.9 L22.1,78.4 M25.4,65.1 L28.8,67.8 M25.3,125.9 L26.1,126.8 M33.9,136.2 L35.2,134.6 M43.1,126.5 L45.1,123.6 M35.1,138.4 L37.4,139.1 M26.5,116.2 L27.4,115.1 M26.6,93.2 L27.7,95.6 M36.6,133.0 L37.9,130.7 M29.0,93.8 L31.6,92.3 M30.1,137.8 L31.6,136.5 M26.2,90.9 L28.4,93.7 M29.4,101.4 L31.1,102.0 M22.5,77.3 L24.2,78.4 M21.0,90.2 L22.0,91.2 M24.8,114.6 L27.7,115.8 M42.4,131.1 L41.8,130.0 M24.2,132.4 L26.2,132.2 M28.0,105.8 L30.2,107.5 M26.2,103.0 L27.9,103.5 M31.4,149.5 L34.4,151.5 M29.5,110.5 L31.1,110.5 M30.5,149.7 L34.0,147.0 M31.7,103.6 L34.1,102.3 M157.7,106.0 L156.4,108.9 M171.2,89.7 L169.3,88.3 M154.0,98.2 L152.8,98.5 M159.6,124.0 L158.6,124.8 M164.9,87.0 L161.8,88.3 M161.2,106.0 L160.0,106.8 M155.1,96.6 L153.5,95.3 M167.3,124.3 L166.4,123.1 M164.2,110.4 L162.3,110.5 M161.4,121.1 L162.2,118.4 M166.8,104.8 L163.6,102.3 M168.8,125.3 L166.9,127.2 M163.1,105.1 L159.9,104.2 M164.8,120.2 L161.9,121.5 M156.5,110.2 L156.6,108.4 M153.5,99.2 L152.1,97.8 M150.8,110.0 L149.4,110.5 M167.8,87.9 L167.9,84.8 M164.1,91.0 L162.7,91.5 M159.4,99.3 L158.1,98.6 M165.1,85.4 L163.3,85.8 M155.7,113.9 L153.0,114.3 M154.2,116.9 L152.8,116.4 M151.6,117.1 L149.5,117.1 M170.4,84.0 L170.5,87.2 M164.0,123.8 L162.3,124.7 M171.2,101.8 L169.2,100.7 M126.3,162.8 L123.4,163.7 M100.7,179.3 L100.5,177.9 M107.6,177.7 L107.2,175.9 M140.6,161.9 L138.6,160.4 M114.1,175.7 L113.2,172.3 M114.4,166.1 L115.3,161.8 M116.6,175.6 L115.4,172.9 M119.7,175.3 L121.7,173.3 M119.4,168.3 L116.6,165.0 M111.1,176.7 L108.9,175.2 M116.1,170.5 L113.8,168.5 M135.4,161.0 L133.9,159.3 M115.1,173.4 L113.0,170.5 M129.0,170.1 L127.2,168.7 M118.8,162.9 L118.4,160.8 M117.1,168.4 L115.5,164.6 M115.7,163.0 L116.7,159.6 M114.5,170.4 L113.9,167.7 M114.9,175.3 L113.2,174.4 M105.0,178.9 L103.7,177.6 M132.9,165.7 L131.4,162.8 M119.6,171.8 L115.4,173.0 M107.3,176.9 L108.5,173.2" stroke="#b7b7b7" stroke-width="0.9"/><path d="M25.2,70.4 L27.4,74.1 M20.2,108.5 L23.6,108.4 M20.1,134.3 L23.9,133.4 M19.9,140.0 L24.2,141.0 M26.1,139.2 L30.0,139.3 M34.6,154.1 L37.8,153.8 M22.7,86.6 L24.4,86.2 M20.6,124.4 L22.8,121.4 M21.4,71.9 L24.1,71.4 M14.2,97.4 L11.6,94.6 M18.0,100.5 L19.6,101.7 M169.0,84.1 L167.5,84.8 M162.6,118.6 L161.1,116.1 M169.1,107.9 L170.8,105.1 M167.3,93.9 L163.1,92.9 M169.8,117.1 L168.0,119.8 M105.1,179.0 L107.3,176.8 M124.3,169.1 L123.1,164.9 M106.8,178.7 L104.4,175.9 M127.0,166.5 L126.3,165.2 M107.4,178.4 L106.7,175.5 M136.4,169.0 L138.0,168.2" stroke="#8a8a8a" stroke-width="0.9"/><path d="M22.0,66.9 L25.3,64.8 M43.6,129.2 L45.3,129.2 M25.8,84.9 L27.3,86.9 M37.7,131.7 L40.1,131.0 M30.6,135.0 L34.2,132.3 M29.9,90.9 L33.3,91.0 M28.2,151.8 L29.3,149.5 M31.4,88.1 L33.8,89.8 M29.0,98.8 L31.3,95.2 M13.7,115.3 L16.6,115.9 M28.9,119.1 L30.3,117.8 M30.8,122.0 L34.1,121.3 M20.1,110.2 L23.2,109.6 M29.4,89.9 L32.3,87.9 M20.4,71.9 L22.4,71.7 M23.2,105.0 L25.5,107.1 M24.7,96.3 L25.9,96.6 M31.7,120.6 L35.4,121.0 M38.0,99.0 L41.5,99.8 M29.1,99.4 L33.3,100.2 M17.4,106.7 L20.7,105.1 M36.9,94.8 L39.1,95.8 M29.5,107.0 L30.7,108.5 M37.8,98.8 L38.7,102.0 M20.4,135.0 L20.2,132.7 M23.6,120.7 L25.8,122.9 M23.0,105.6 L24.6,105.0 M22.2,91.0 L23.9,92.2 M28.3,91.8 L32.0,92.4 M29.6,107.6 L30.4,105.8 M157.8,102.3 L156.0,102.6 M159.5,112.4 L156.9,113.2 M164.5,123.5 L160.8,123.4 M168.0,111.5 L163.9,113.3 M171.9,88.0 L170.9,90.7 M171.9,90.2 L168.5,93.1 M165.8,84.8 L162.9,84.3 M157.4,99.8 L156.7,101.8 M171.3,108.4 L169.4,104.9 M123.5,162.8 L123.1,161.5 M133.2,168.6 L132.1,166.1 M122.0,166.3 L121.8,164.8 M128.8,164.8 L125.3,166.4 M118.1,165.9 L114.0,167.7 M134.8,170.8 L133.5,170.6" stroke="#ffffff" stroke-width="1.6"/><path d="M26.0,65.0 L29.3,65.6 M36.5,164.4 L38.3,163.7 M30.6,92.9 L32.8,92.7 M40.5,126.3 L43.8,123.7 M27.5,98.8 L29.0,100.2 M40.0,96.4 L43.5,95.1 M28.2,96.4 L29.9,99.2 M28.8,102.7 L32.9,103.3 M33.7,90.4 L34.6,88.1 M27.0,120.7 L29.1,122.1 M36.4,133.2 L39.1,131.1 M30.8,94.9 L31.9,94.1 M30.0,131.5 L33.8,133.1 M23.4,64.0 L26.3,66.9 M34.3,141.8 L38.3,141.5 M44.7,129.8 L44.9,128.5 M15.8,92.3 L18.7,92.5 M31.8,141.3 L34.4,143.5 M36.3,144.3 L37.9,142.4 M31.7,99.3 L34.1,100.4 M14.3,99.8 L17.5,96.8 M159.6,118.5 L158.0,118.4 M170.5,88.2 L168.9,88.2 M155.0,104.5 L151.0,105.7 M151.1,106.3 L149.8,106.8 M161.4,106.1 L160.1,105.9 M135.9,167.6 L134.8,164.5 M120.6,165.9 L121.4,162.6 M115.7,168.1 L115.3,163.9 M118.9,165.2 L120.0,162.3" stroke="#ffffff" stroke-width="1.2"/><path d="M28.2,122.8 L31.2,125.4 M23.2,108.6 L25.1,108.2 M38.5,144.9 L41.2,147.8 M21.8,137.1 L24.8,138.8 M24.6,121.8 L27.0,119.5 M28.9,103.5 L32.5,103.8 M26.5,119.4 L28.8,120.1 M28.4,130.7 L30.0,128.4 M15.6,121.7 L18.9,120.4 M24.1,118.3 L24.4,119.8 M30.8,139.1 L32.9,138.7 M37.5,152.2 L40.2,151.6 M29.6,97.0 L33.2,99.4 M17.6,94.5 L21.6,96.1 M25.6,120.3 L28.1,119.5 M37.7,100.1 L40.5,102.1 M18.1,117.4 L20.0,117.0 M29.1,101.9 L31.4,102.1 M26.4,109.8 L29.9,110.6 M24.0,118.5 L25.0,115.4 M29.4,124.0 L30.7,123.6 M28.8,143.3 L31.0,140.6 M36.0,145.1 L36.1,141.3 M24.5,137.6 L28.5,137.9 M22.0,84.5 L26.0,84.8 M17.3,75.1 L20.8,74.9 M159.7,94.1 L157.1,95.6 M158.6,119.3 L156.5,120.1 M161.4,100.0 L160.9,97.8 M162.0,134.9 L159.0,137.8 M168.1,92.5 L167.1,93.8 M166.4,114.6 L165.6,110.9 M159.1,98.6 L158.4,97.4 M153.5,104.6 L151.0,104.0 M119.9,165.2 L117.9,165.1 M123.1,161.7 L123.4,158.6 M118.9,167.3 L120.4,164.3 M138.2,157.2 L135.5,154.6 M128.2,163.0 L127.0,159.4 M122.4,161.6 L121.4,160.2 M125.9,173.5 L123.7,170.9 M114.3,173.4 L113.4,170.9 M118.0,168.4 L117.9,166.3" stroke="#ffffff" stroke-width="0.9"/></g>
<path d="M30.0,94.0 34.5,96.3 39.2,97.8 43.5,100.3 M33.0,91.0 35.6,91.9 38.5,91.9 41.0,93.0 M34.0,123.0 37.3,124.2 40.9,124.6 44.0,126.0 M37.0,129.0 39.8,129.7 42.9,129.6 45.5,130.5 M36.0,135.0 38.3,134.9 40.9,133.9 43.0,134.0 M33.0,150.0 35.8,150.5 38.9,150.2 41.5,151.0 M30.0,110.0 31.0,108.2 32.2,105.6 33.0,104.0 M27.0,116.0 28.6,117.2 30.5,117.6 32.0,119.0 M162.0,107.0 156.6,107.6 151.5,107.4 146.0,108.2 M162.0,117.0 157.0,117.7 152.2,117.6 147.0,118.6 M163.0,103.0 158.8,102.8 154.9,101.8 150.5,101.8 M164.0,112.0 160.6,111.9 157.5,110.9 154.0,111.0 M165.0,95.0 162.3,93.9 159.9,91.9 157.0,91.0 M164.0,122.0 161.6,121.9 159.5,120.9 157.0,121.0 M137.0,170.0 136.5,167.9 136.2,164.9 135.5,163.0 134.1,160.5 133.6,158.7 133.0,156.0 M141.0,162.0 140.1,160.5 139.5,158.2 138.5,157.0 M147.0,156.5 145.8,155.5 144.9,153.7 143.5,153.0 M126.0,168.0 124.3,166.4 122.9,163.9 121.0,162.5 M119.0,172.0 117.5,169.9 116.2,166.9 114.5,165.0 M130.0,170.0 129.6,168.0 129.5,165.2 129.0,163.5 M110.0,178.0 109.0,176.9 108.2,174.9 107.0,174.0" fill="none" stroke="#aeaeae" stroke-width="1" stroke-linecap="round"/>
</g>
<path d="M87.3,188.6 L88.6,191 L89.9,188.6" fill="none" stroke="#868686" stroke-width="1.1"/></g>
</defs></svg>
<svg class="ax" style="left:187px;top:68px" width="194" height="194" viewBox="0 0 194 194"><use href="#sky"/><path d="M0,0.5H194M0.5,0V194" stroke="#000" stroke-opacity=".45" fill="none"/></svg>
<svg class="ax" style="left:525px;top:68px" width="194" height="194" viewBox="0 0 194 194"><use href="#sky"/><path d="M0,0.5H194M0.5,0V194" stroke="#000" stroke-opacity=".45" fill="none"/></svg>
<svg class="ax" style="left:862px;top:68px" width="194" height="194" viewBox="0 0 194 194"><use href="#sky"/><path d="M0,0.5H194M0.5,0V194" stroke="#000" stroke-opacity=".45" fill="none"/></svg>
<svg class="ax" style="left:187px;top:338px" width="194" height="194" viewBox="0 0 194 194"><use href="#sky"/><path d="M0,0.5H194M0.5,0V194" stroke="#000" stroke-opacity=".45" fill="none"/></svg>
<svg class="ax" style="left:525px;top:338px" width="194" height="194" viewBox="0 0 194 194"><use href="#sky"/><path d="M0,0.5H194M0.5,0V194" stroke="#000" stroke-opacity=".45" fill="none"/></svg>
<svg class="ax" style="left:862px;top:338px" width="194" height="194" viewBox="0 0 194 194"><use href="#sky"/><path d="M0,0.5H194M0.5,0V194" stroke="#000" stroke-opacity=".45" fill="none"/></svg>
<svg class="ax" style="left:187px;top:608px" width="194" height="194" viewBox="0 0 194 194"><use href="#sky"/><path d="M0,0.5H194M0.5,0V194" stroke="#000" stroke-opacity=".45" fill="none"/></svg>
<svg class="ax" style="left:525px;top:608px" width="194" height="194" viewBox="0 0 194 194"><use href="#sky"/><path d="M0,0.5H194M0.5,0V194" stroke="#000" stroke-opacity=".45" fill="none"/></svg>
<svg class="ax" style="left:862px;top:608px" width="194" height="194" viewBox="0 0 194 194"><use href="#sky"/><path d="M0,0.5H194M0.5,0V194" stroke="#000" stroke-opacity=".45" fill="none"/></svg>
<svg class="tt" width="1201" height="901" viewBox="0 0 1201 901"><text x="185.0 200.0 215.8 224.7 233.2 244.2 255.2 266.2 277.2 288.2 299.2 310.2 321.2 332.2 343.2 354.2 363.7 372.7 383.7 394.7 405.7 415.3 420.8 433.0 438.5" y="62.0">CC3_090112053835_0001.TIF</text>
<text x="523.0 538.0 553.8 562.7 571.2 582.2 593.2 604.2 615.2 626.2 637.2 648.2 659.2 670.2 681.2 692.2 701.7 710.7 721.7 732.7 743.7 753.3 758.8 771.0 776.5" y="62.0">CC3_090112053935_0001.TIF</text>
<text x="861.0 876.0 891.8 900.7 909.2 920.2 931.2 942.2 953.2 964.2 975.2 986.2 997.2 1008.2 1019.2 1030.2 1039.7 1048.7 1059.7 1070.7 1081.7 1091.3 1096.8 1109.0 1114.5" y="62.0">CC3_090112054035_0001.TIF</text>
<text x="185.0 200.0 215.8 224.7 233.2 244.2 255.2 266.2 277.2 288.2 299.2 310.2 321.2 332.2 343.2 354.2 363.7 372.7 383.7 394.7 405.7 415.3 420.8 433.0 438.5" y="332.0">CC3_090112054135_0001.TIF</text>
<text x="523.0 538.0 553.8 562.7 571.2 582.2 593.2 604.2 615.2 626.2 637.2 648.2 659.2 670.2 681.2 692.2 701.7 710.7 721.7 732.7 743.7 753.3 758.8 771.0 776.5" y="332.0">CC3_090112054235_0001.TIF</text>
<text x="861.0 876.0 891.8 900.7 909.2 920.2 931.2 942.2 953.2 964.2 975.2 986.2 997.2 1008.2 1019.2 1030.2 1039.7 1048.7 1059.7 1070.7 1081.7 1091.3 1096.8 1109.0 1114.5" y="332.0">CC3_090112054540_0001.TIF</text>
<text x="185.0 200.0 215.8 224.7 233.2 244.2 255.2 266.2 277.2 288.2 299.2 310.2 321.2 332.2 343.2 354.2 363.7 372.7 383.7 394.7 405.7 415.3 420.8 433.0 438.5" y="602.0">CC3_090112054640_0001.TIF</text>
<text x="523.0 538.0 553.8 562.7 571.2 582.2 593.2 604.2 615.2 626.2 637.2 648.2 659.2 670.2 681.2 692.2 701.7 710.7 721.7 732.7 743.7 753.3 758.8 771.0 776.5" y="602.0">CC3_090112054740_0001.TIF</text>
<text x="861.0 876.0 891.8 900.7 909.2 920.2 931.2 942.2 953.2 964.2 975.2 986.2 997.2 1008.2 1019.2 1030.2 1039.7 1048.7 1059.7 1070.7 1081.7 1091.3 1096.8 1109.0 1114.5" y="602.0">CC3_090112054840_0001.TIF</text></svg>
</body></html>
